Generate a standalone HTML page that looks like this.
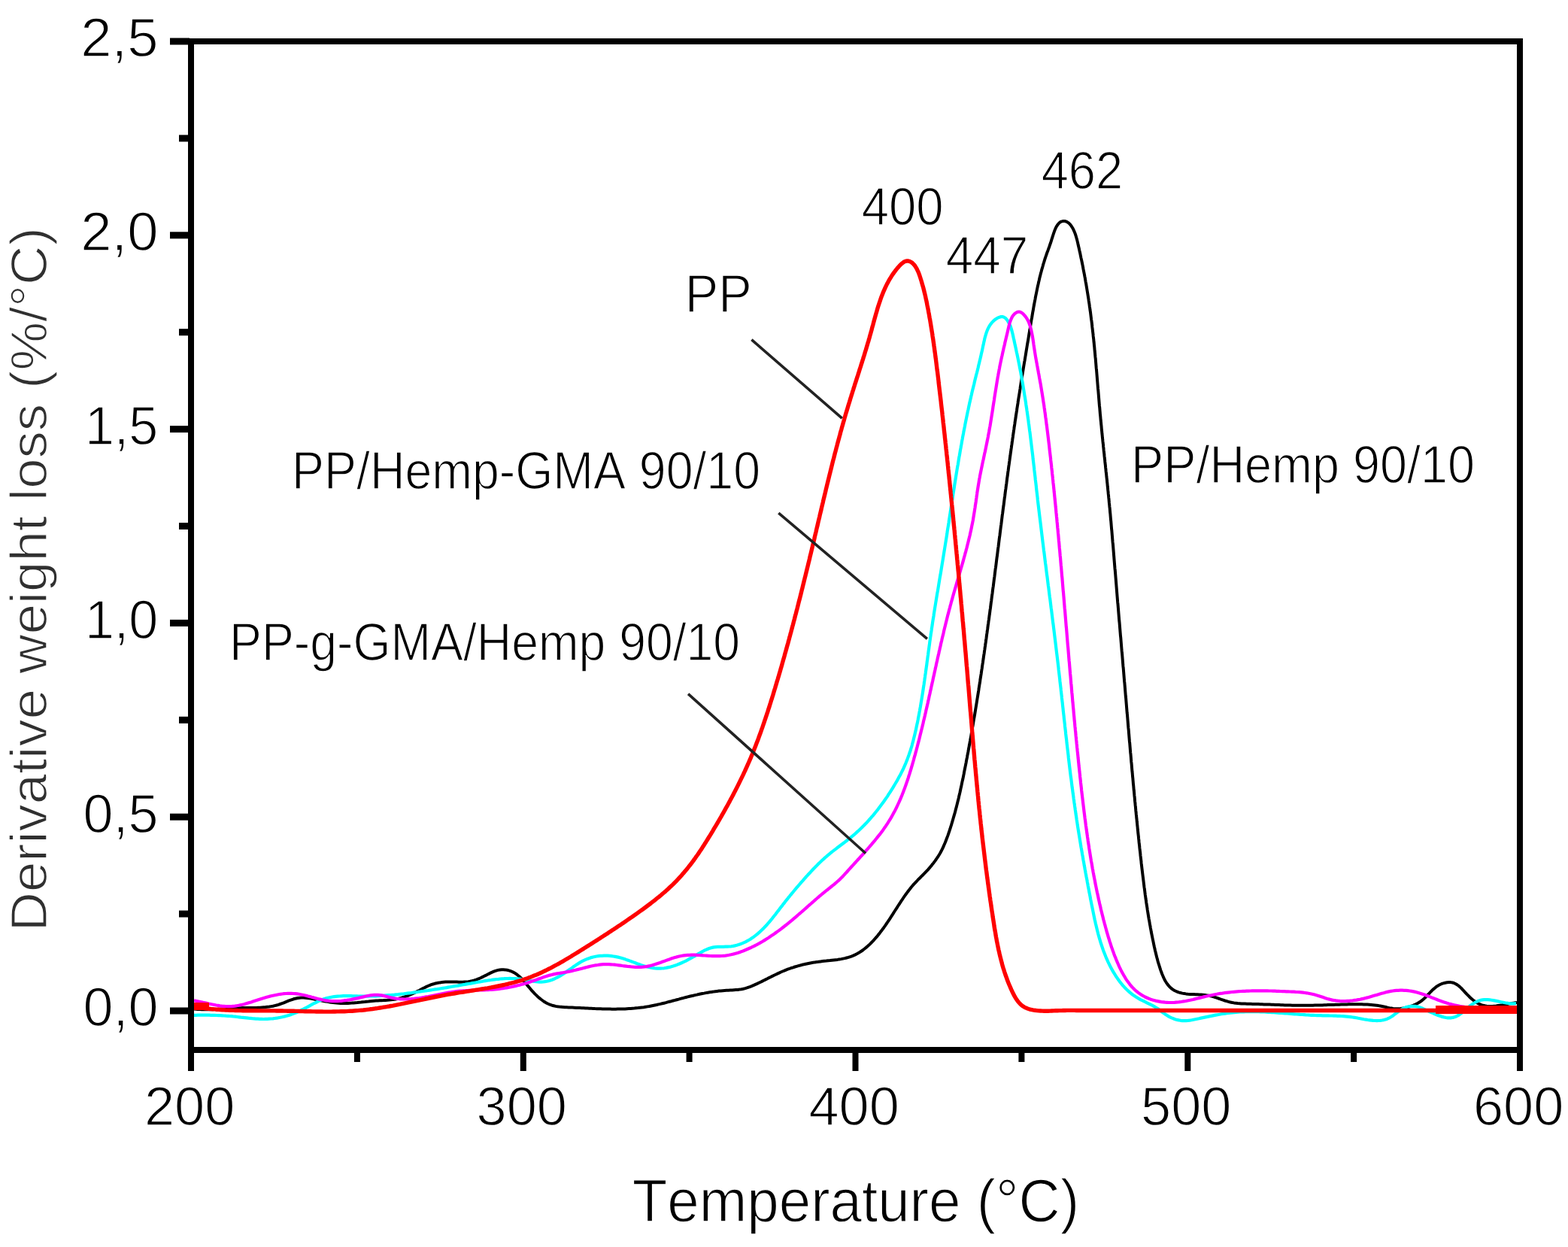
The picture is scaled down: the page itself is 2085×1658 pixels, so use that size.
<!DOCTYPE html>
<html><head><meta charset="utf-8"><title>Derivative weight loss</title>
<style>html,body{margin:0;padding:0;background:#fff;}svg{display:block;}</style></head>
<body><svg width="2085" height="1658" viewBox="0 0 2085 1658">
<rect width="2085" height="1658" fill="#fff"/>
<path d="M258.0 1341.5 L260.5 1341.7 L263.0 1342.0 L265.6 1342.1 L268.1 1342.2 L270.6 1342.3 L273.1 1342.3 L275.6 1342.3 L278.1 1342.3 L280.6 1342.3 L283.1 1342.2 L285.6 1342.1 L288.1 1342.0 L290.5 1341.8 L293.0 1341.7 L295.5 1341.5 L298.0 1341.4 L300.5 1341.2 L303.0 1341.0 L305.5 1340.9 L308.0 1340.7 L310.5 1340.6 L313.0 1340.5 L315.5 1340.3 L318.0 1340.2 L320.5 1340.2 L323.0 1340.1 L325.5 1340.1 L328.0 1340.0 L330.5 1340.0 L333.1 1340.0 L335.6 1340.0 L338.1 1339.9 L340.6 1339.9 L343.1 1339.8 L345.6 1339.7 L348.1 1339.5 L350.6 1339.3 L353.1 1339.1 L355.6 1338.8 L358.0 1338.5 L360.5 1338.1 L362.9 1337.7 L365.4 1337.1 L367.8 1336.5 L370.2 1335.8 L372.5 1335.0 L374.9 1334.2 L377.3 1333.3 L379.6 1332.3 L381.9 1331.4 L384.3 1330.4 L386.6 1329.6 L389.0 1328.8 L391.3 1328.0 L393.7 1327.5 L396.0 1327.0 L398.4 1326.7 L400.8 1326.6 L403.3 1326.6 L405.7 1326.7 L408.1 1326.9 L410.6 1327.2 L413.0 1327.6 L415.5 1328.0 L418.0 1328.5 L420.5 1329.0 L422.9 1329.5 L425.4 1330.0 L427.9 1330.5 L430.3 1331.0 L432.8 1331.5 L435.3 1331.9 L437.7 1332.3 L440.2 1332.7 L442.7 1333.0 L445.2 1333.3 L447.7 1333.6 L450.1 1333.8 L452.6 1333.9 L455.1 1333.9 L457.6 1334.0 L460.2 1333.9 L462.7 1333.9 L465.2 1333.7 L467.7 1333.6 L470.2 1333.4 L472.6 1333.2 L475.1 1333.0 L477.6 1332.7 L480.1 1332.5 L482.6 1332.2 L485.1 1332.0 L487.5 1331.7 L490.0 1331.5 L492.5 1331.2 L495.0 1331.0 L497.5 1330.8 L500.0 1330.6 L502.5 1330.5 L505.0 1330.3 L507.5 1330.2 L510.0 1330.1 L512.5 1329.9 L515.0 1329.8 L517.5 1329.6 L520.0 1329.3 L522.5 1329.0 L524.9 1328.7 L527.4 1328.2 L529.8 1327.7 L532.2 1327.1 L534.6 1326.5 L537.0 1325.7 L539.3 1324.9 L541.7 1324.1 L544.0 1323.1 L546.3 1322.2 L548.6 1321.2 L550.9 1320.1 L553.2 1319.0 L555.4 1317.8 L557.7 1316.7 L559.9 1315.5 L562.2 1314.3 L564.4 1313.2 L566.6 1312.1 L568.9 1311.0 L571.2 1310.1 L573.4 1309.2 L575.7 1308.5 L578.0 1307.8 L580.4 1307.2 L582.7 1306.8 L585.1 1306.4 L587.5 1306.1 L589.9 1305.8 L592.4 1305.6 L594.9 1305.5 L597.3 1305.5 L599.9 1305.5 L602.4 1305.5 L605.0 1305.6 L607.5 1305.6 L610.1 1305.7 L612.7 1305.7 L615.2 1305.7 L617.7 1305.6 L620.2 1305.5 L622.7 1305.2 L625.2 1304.8 L627.5 1304.3 L629.9 1303.7 L632.2 1303.0 L634.5 1302.1 L636.8 1301.2 L639.0 1300.2 L641.3 1299.1 L643.5 1298.0 L645.8 1296.9 L648.0 1295.7 L650.3 1294.6 L652.7 1293.4 L655.0 1292.4 L657.3 1291.4 L659.7 1290.6 L662.1 1289.9 L664.6 1289.5 L667.0 1289.3 L669.5 1289.3 L671.9 1289.4 L674.3 1289.8 L676.7 1290.4 L679.0 1291.1 L681.2 1292.0 L683.4 1293.1 L685.4 1294.3 L687.4 1295.7 L689.2 1297.2 L691.1 1298.8 L692.8 1300.4 L694.5 1302.2 L696.2 1304.1 L697.8 1306.0 L699.5 1307.9 L701.1 1309.9 L702.8 1311.9 L704.4 1313.8 L706.1 1315.8 L707.9 1317.8 L709.6 1319.7 L711.4 1321.6 L713.3 1323.4 L715.2 1325.2 L717.1 1326.9 L719.1 1328.5 L721.1 1330.0 L723.1 1331.5 L725.2 1332.8 L727.4 1334.0 L729.6 1335.0 L731.8 1335.9 L734.1 1336.7 L736.4 1337.3 L738.8 1337.9 L741.2 1338.3 L743.6 1338.6 L746.0 1338.8 L748.5 1339.0 L751.0 1339.2 L753.5 1339.3 L756.0 1339.4 L758.5 1339.5 L761.0 1339.6 L763.5 1339.7 L766.0 1339.9 L768.5 1340.0 L771.0 1340.1 L773.5 1340.2 L776.0 1340.3 L778.5 1340.5 L781.1 1340.6 L783.6 1340.7 L786.1 1340.8 L788.6 1340.9 L791.1 1341.1 L793.6 1341.2 L796.1 1341.3 L798.6 1341.3 L801.1 1341.4 L803.7 1341.5 L806.2 1341.5 L808.7 1341.6 L811.2 1341.6 L813.7 1341.7 L816.2 1341.7 L818.7 1341.7 L821.2 1341.6 L823.7 1341.6 L826.2 1341.5 L828.7 1341.5 L831.2 1341.4 L833.7 1341.2 L836.2 1341.1 L838.6 1341.0 L841.1 1340.8 L843.6 1340.6 L846.1 1340.3 L848.6 1340.1 L851.1 1339.8 L853.5 1339.5 L856.0 1339.2 L858.5 1338.8 L860.9 1338.4 L863.4 1338.0 L865.8 1337.5 L868.3 1337.0 L870.7 1336.5 L873.2 1336.0 L875.6 1335.4 L878.1 1334.9 L880.5 1334.3 L883.0 1333.7 L885.4 1333.1 L887.8 1332.4 L890.3 1331.8 L892.7 1331.2 L895.1 1330.5 L897.5 1329.9 L900.0 1329.2 L902.4 1328.6 L904.8 1327.9 L907.2 1327.3 L909.6 1326.6 L912.1 1326.0 L914.5 1325.4 L916.9 1324.8 L919.3 1324.2 L921.7 1323.7 L924.1 1323.1 L926.6 1322.6 L929.0 1322.0 L931.4 1321.5 L933.8 1321.0 L936.3 1320.6 L938.7 1320.1 L941.2 1319.7 L943.6 1319.3 L946.1 1318.9 L948.5 1318.6 L951.0 1318.2 L953.5 1317.9 L956.0 1317.6 L958.4 1317.4 L961.0 1317.2 L963.5 1317.0 L966.0 1316.8 L968.5 1316.7 L971.1 1316.6 L973.6 1316.5 L976.1 1316.3 L978.6 1316.1 L981.1 1315.9 L983.6 1315.6 L986.1 1315.2 L988.5 1314.7 L990.9 1314.1 L993.2 1313.4 L995.5 1312.6 L997.8 1311.8 L1000.1 1310.9 L1002.4 1309.9 L1004.6 1308.9 L1006.9 1307.9 L1009.1 1306.8 L1011.4 1305.7 L1013.6 1304.6 L1015.8 1303.5 L1018.1 1302.4 L1020.3 1301.3 L1022.5 1300.1 L1024.8 1299.0 L1027.0 1297.9 L1029.3 1296.8 L1031.5 1295.7 L1033.8 1294.6 L1036.0 1293.6 L1038.3 1292.5 L1040.6 1291.5 L1042.9 1290.6 L1045.2 1289.6 L1047.5 1288.7 L1049.9 1287.9 L1052.2 1287.0 L1054.6 1286.3 L1056.9 1285.5 L1059.3 1284.8 L1061.7 1284.1 L1064.1 1283.5 L1066.5 1282.8 L1068.9 1282.3 L1071.3 1281.7 L1073.8 1281.2 L1076.2 1280.7 L1078.7 1280.2 L1081.2 1279.8 L1083.6 1279.4 L1086.1 1279.1 L1088.6 1278.7 L1091.1 1278.4 L1093.6 1278.1 L1096.1 1277.8 L1098.7 1277.6 L1101.2 1277.3 L1103.7 1277.1 L1106.2 1276.8 L1108.7 1276.5 L1111.2 1276.2 L1113.7 1275.9 L1116.1 1275.5 L1118.6 1275.1 L1121.0 1274.6 L1123.4 1274.1 L1125.8 1273.5 L1128.1 1272.9 L1130.5 1272.1 L1132.7 1271.3 L1135.0 1270.4 L1137.2 1269.4 L1139.4 1268.3 L1141.5 1267.1 L1143.6 1265.8 L1145.6 1264.5 L1147.7 1263.0 L1149.6 1261.5 L1151.6 1259.9 L1153.5 1258.3 L1155.4 1256.6 L1157.2 1254.8 L1159.0 1253.0 L1160.8 1251.2 L1162.5 1249.3 L1164.2 1247.3 L1165.9 1245.4 L1167.5 1243.4 L1169.2 1241.4 L1170.7 1239.3 L1172.3 1237.3 L1173.8 1235.2 L1175.3 1233.2 L1176.8 1231.1 L1178.2 1229.0 L1179.6 1227.0 L1181.0 1224.9 L1182.4 1222.8 L1183.7 1220.8 L1185.1 1218.7 L1186.4 1216.7 L1187.7 1214.6 L1189.0 1212.5 L1190.3 1210.5 L1191.7 1208.4 L1193.0 1206.4 L1194.3 1204.3 L1195.6 1202.3 L1197.0 1200.2 L1198.3 1198.1 L1199.7 1196.1 L1201.1 1194.0 L1202.5 1191.9 L1204.0 1189.8 L1205.5 1187.8 L1207.0 1185.7 L1208.5 1183.7 L1210.1 1181.7 L1211.6 1179.8 L1213.3 1177.8 L1214.9 1175.9 L1216.6 1174.1 L1218.3 1172.3 L1220.0 1170.5 L1221.7 1168.7 L1223.5 1167.0 L1225.3 1165.2 L1227.0 1163.5 L1228.8 1161.7 L1230.5 1159.9 L1232.2 1158.1 L1233.9 1156.3 L1235.6 1154.4 L1237.2 1152.5 L1238.8 1150.6 L1240.4 1148.6 L1241.9 1146.6 L1243.4 1144.6 L1244.9 1142.5 L1246.3 1140.4 L1247.7 1138.3 L1249.0 1136.2 L1250.3 1134.0 L1251.5 1131.8 L1252.6 1129.6 L1253.7 1127.3 L1254.7 1125.1 L1255.7 1122.8 L1256.7 1120.5 L1257.6 1118.2 L1258.5 1115.8 L1259.4 1113.5 L1260.3 1111.1 L1261.1 1108.8 L1261.9 1106.4 L1262.7 1104.1 L1263.5 1101.7 L1264.2 1099.3 L1265.0 1096.9 L1265.7 1094.5 L1266.4 1092.1 L1267.1 1089.7 L1267.8 1087.3 L1268.5 1084.9 L1269.2 1082.5 L1269.9 1080.1 L1270.5 1077.7 L1271.1 1075.3 L1271.8 1072.9 L1272.4 1070.4 L1273.0 1068.0 L1273.6 1065.6 L1274.2 1063.2 L1274.8 1060.7 L1275.3 1058.3 L1275.9 1055.9 L1276.5 1053.4 L1277.0 1051.0 L1277.5 1048.5 L1278.1 1046.1 L1278.6 1043.6 L1279.1 1041.2 L1279.6 1038.7 L1280.2 1036.3 L1280.7 1033.8 L1281.2 1031.4 L1281.7 1028.9 L1282.1 1026.4 L1282.6 1024.0 L1283.1 1021.5 L1283.6 1019.1 L1284.1 1016.6 L1284.6 1014.1 L1285.0 1011.7 L1285.5 1009.2 L1286.0 1006.8 L1286.4 1004.3 L1286.9 1001.8 L1287.4 999.4 L1287.8 996.9 L1288.3 994.5 L1288.7 992.0 L1289.2 989.5 L1289.6 987.1 L1290.1 984.6 L1290.5 982.1 L1291.0 979.7 L1291.4 977.2 L1291.8 974.7 L1292.3 972.3 L1292.7 969.8 L1293.1 967.3 L1293.6 964.9 L1294.0 962.4 L1294.4 959.9 L1294.8 957.5 L1295.2 955.0 L1295.7 952.5 L1296.1 950.1 L1296.5 947.6 L1296.9 945.1 L1297.3 942.7 L1297.7 940.2 L1298.1 937.7 L1298.5 935.3 L1298.9 932.8 L1299.3 930.3 L1299.7 927.8 L1300.1 925.4 L1300.5 922.9 L1300.9 920.4 L1301.3 918.0 L1301.6 915.5 L1302.0 913.0 L1302.4 910.5 L1302.8 908.1 L1303.2 905.6 L1303.5 903.1 L1303.9 900.6 L1304.3 898.2 L1304.7 895.7 L1305.0 893.2 L1305.4 890.7 L1305.8 888.3 L1306.1 885.8 L1306.5 883.3 L1306.9 880.8 L1307.2 878.4 L1307.6 875.9 L1307.9 873.4 L1308.3 870.9 L1308.7 868.5 L1309.0 866.0 L1309.4 863.5 L1309.7 861.0 L1310.1 858.6 L1310.4 856.1 L1310.8 853.6 L1311.1 851.1 L1311.5 848.6 L1311.8 846.2 L1312.1 843.7 L1312.5 841.2 L1312.8 838.7 L1313.2 836.2 L1313.5 833.8 L1313.8 831.3 L1314.2 828.8 L1314.5 826.3 L1314.9 823.8 L1315.2 821.4 L1315.5 818.9 L1315.9 816.4 L1316.2 813.9 L1316.5 811.4 L1316.9 809.0 L1317.2 806.5 L1317.5 804.0 L1317.8 801.5 L1318.2 799.0 L1318.5 796.6 L1318.8 794.1 L1319.1 791.6 L1319.5 789.1 L1319.8 786.6 L1320.1 784.1 L1320.4 781.7 L1320.8 779.2 L1321.1 776.7 L1321.4 774.2 L1321.7 771.7 L1322.0 769.2 L1322.4 766.8 L1322.7 764.3 L1323.0 761.8 L1323.3 759.3 L1323.6 756.8 L1324.0 754.3 L1324.3 751.9 L1324.6 749.4 L1324.9 746.9 L1325.2 744.4 L1325.5 741.9 L1325.9 739.4 L1326.2 737.0 L1326.5 734.5 L1326.8 732.0 L1327.1 729.5 L1327.5 727.0 L1327.8 724.5 L1328.1 722.1 L1328.4 719.6 L1328.7 717.1 L1329.0 714.6 L1329.4 712.1 L1329.7 709.6 L1330.0 707.1 L1330.3 704.7 L1330.6 702.2 L1330.9 699.7 L1331.3 697.2 L1331.6 694.7 L1331.9 692.2 L1332.2 689.8 L1332.5 687.3 L1332.8 684.8 L1333.2 682.3 L1333.5 679.8 L1333.8 677.3 L1334.1 674.9 L1334.5 672.4 L1334.8 669.9 L1335.1 667.4 L1335.4 664.9 L1335.7 662.4 L1336.1 660.0 L1336.4 657.5 L1336.7 655.0 L1337.0 652.5 L1337.4 650.0 L1337.7 647.6 L1338.0 645.1 L1338.4 642.6 L1338.7 640.1 L1339.0 637.6 L1339.3 635.1 L1339.7 632.7 L1340.0 630.2 L1340.3 627.7 L1340.7 625.2 L1341.0 622.7 L1341.3 620.3 L1341.7 617.8 L1342.0 615.3 L1342.4 612.8 L1342.7 610.3 L1343.0 607.9 L1343.4 605.4 L1343.7 602.9 L1344.1 600.4 L1344.4 597.9 L1344.8 595.5 L1345.1 593.0 L1345.5 590.5 L1345.8 588.0 L1346.2 585.6 L1346.5 583.1 L1346.9 580.6 L1347.2 578.1 L1347.6 575.7 L1347.9 573.2 L1348.3 570.7 L1348.6 568.2 L1349.0 565.8 L1349.4 563.3 L1349.7 560.8 L1350.1 558.3 L1350.5 555.9 L1350.8 553.4 L1351.2 550.9 L1351.6 548.4 L1352.0 546.0 L1352.3 543.5 L1352.7 541.0 L1353.1 538.5 L1353.5 536.1 L1353.8 533.6 L1354.2 531.1 L1354.6 528.7 L1355.0 526.2 L1355.4 523.7 L1355.8 521.3 L1356.2 518.8 L1356.6 516.3 L1356.9 513.8 L1357.3 511.4 L1357.7 508.9 L1358.1 506.4 L1358.5 504.0 L1358.9 501.5 L1359.3 499.0 L1359.7 496.6 L1360.1 494.1 L1360.5 491.6 L1360.9 489.1 L1361.3 486.7 L1361.7 484.2 L1362.1 481.7 L1362.6 479.3 L1363.0 476.8 L1363.4 474.3 L1363.8 471.9 L1364.2 469.4 L1364.6 466.9 L1365.0 464.4 L1365.4 462.0 L1365.8 459.5 L1366.2 457.0 L1366.7 454.5 L1367.1 452.1 L1367.5 449.6 L1367.9 447.1 L1368.3 444.7 L1368.7 442.2 L1369.1 439.7 L1369.6 437.2 L1370.0 434.8 L1370.4 432.3 L1370.8 429.8 L1371.2 427.3 L1371.6 424.8 L1372.1 422.4 L1372.5 419.9 L1372.9 417.4 L1373.3 414.9 L1373.8 412.5 L1374.2 410.0 L1374.6 407.5 L1375.1 405.0 L1375.5 402.6 L1376.0 400.1 L1376.5 397.6 L1376.9 395.2 L1377.4 392.7 L1377.9 390.3 L1378.4 387.8 L1378.9 385.4 L1379.4 382.9 L1379.9 380.5 L1380.5 378.0 L1381.0 375.6 L1381.6 373.2 L1382.1 370.8 L1382.7 368.3 L1383.3 365.9 L1383.9 363.5 L1384.6 361.1 L1385.2 358.7 L1385.9 356.4 L1386.6 354.0 L1387.2 351.6 L1388.0 349.2 L1388.7 346.9 L1389.4 344.5 L1390.2 342.2 L1391.0 339.9 L1391.8 337.5 L1392.6 335.2 L1393.5 332.9 L1394.3 330.6 L1395.2 328.2 L1396.0 325.8 L1396.9 323.3 L1397.7 320.8 L1398.5 318.2 L1399.4 315.5 L1400.2 312.9 L1401.1 310.2 L1402.0 307.6 L1403.0 305.1 L1404.0 302.7 L1405.2 300.6 L1406.5 298.6 L1407.9 297.0 L1409.5 295.6 L1411.3 294.6 L1413.2 294.1 L1415.1 293.9 L1417.1 294.3 L1419.0 295.1 L1420.8 296.3 L1422.5 297.9 L1424.1 299.8 L1425.5 301.9 L1426.8 304.1 L1427.9 306.4 L1428.9 308.8 L1429.8 311.1 L1430.6 313.5 L1431.3 316.0 L1432.0 318.4 L1432.6 320.9 L1433.2 323.3 L1433.7 325.8 L1434.3 328.3 L1434.9 330.8 L1435.4 333.2 L1436.0 335.7 L1436.5 338.2 L1437.0 340.6 L1437.5 343.1 L1438.1 345.6 L1438.6 348.0 L1439.1 350.5 L1439.6 352.9 L1440.1 355.4 L1440.5 357.9 L1441.0 360.3 L1441.5 362.8 L1442.0 365.3 L1442.4 367.7 L1442.9 370.2 L1443.3 372.7 L1443.7 375.1 L1444.2 377.6 L1444.6 380.1 L1445.0 382.5 L1445.4 385.0 L1445.8 387.5 L1446.2 389.9 L1446.6 392.4 L1447.0 394.9 L1447.4 397.3 L1447.7 399.8 L1448.1 402.3 L1448.5 404.7 L1448.8 407.2 L1449.2 409.7 L1449.5 412.2 L1449.9 414.6 L1450.2 417.1 L1450.5 419.6 L1450.8 422.0 L1451.1 424.5 L1451.5 427.0 L1451.8 429.5 L1452.1 432.0 L1452.3 434.4 L1452.6 436.9 L1452.9 439.4 L1453.2 441.9 L1453.5 444.4 L1453.7 446.9 L1454.0 449.3 L1454.3 451.8 L1454.5 454.3 L1454.8 456.8 L1455.0 459.3 L1455.3 461.8 L1455.5 464.3 L1455.7 466.8 L1456.0 469.3 L1456.2 471.8 L1456.4 474.2 L1456.7 476.7 L1456.9 479.2 L1457.1 481.7 L1457.3 484.2 L1457.5 486.7 L1457.7 489.2 L1458.0 491.7 L1458.2 494.2 L1458.4 496.7 L1458.6 499.2 L1458.8 501.7 L1459.0 504.2 L1459.2 506.7 L1459.4 509.2 L1459.6 511.7 L1459.8 514.2 L1460.0 516.7 L1460.3 519.2 L1460.5 521.7 L1460.7 524.2 L1460.9 526.7 L1461.1 529.2 L1461.3 531.7 L1461.5 534.2 L1461.7 536.7 L1461.9 539.2 L1462.2 541.7 L1462.4 544.2 L1462.6 546.7 L1462.8 549.2 L1463.0 551.6 L1463.3 554.1 L1463.5 556.6 L1463.7 559.1 L1464.0 561.6 L1464.2 564.1 L1464.5 566.6 L1464.7 569.1 L1464.9 571.6 L1465.2 574.1 L1465.4 576.6 L1465.7 579.1 L1465.9 581.6 L1466.2 584.0 L1466.4 586.5 L1466.7 589.0 L1467.0 591.5 L1467.2 594.0 L1467.5 596.5 L1467.7 599.0 L1468.0 601.5 L1468.3 604.0 L1468.5 606.5 L1468.8 608.9 L1469.1 611.4 L1469.3 613.9 L1469.6 616.4 L1469.9 618.9 L1470.1 621.4 L1470.4 623.9 L1470.6 626.4 L1470.9 628.8 L1471.2 631.3 L1471.4 633.8 L1471.7 636.3 L1472.0 638.8 L1472.2 641.3 L1472.5 643.8 L1472.7 646.3 L1473.0 648.8 L1473.2 651.2 L1473.5 653.7 L1473.7 656.2 L1474.0 658.7 L1474.2 661.2 L1474.5 663.7 L1474.7 666.2 L1474.9 668.7 L1475.2 671.2 L1475.4 673.7 L1475.7 676.1 L1475.9 678.6 L1476.1 681.1 L1476.4 683.6 L1476.6 686.1 L1476.8 688.6 L1477.0 691.1 L1477.3 693.6 L1477.5 696.1 L1477.7 698.6 L1477.9 701.1 L1478.1 703.6 L1478.4 706.1 L1478.6 708.6 L1478.8 711.1 L1479.0 713.5 L1479.2 716.0 L1479.4 718.5 L1479.6 721.0 L1479.9 723.5 L1480.1 726.0 L1480.3 728.5 L1480.5 731.0 L1480.7 733.5 L1480.9 736.0 L1481.1 738.5 L1481.3 741.0 L1481.5 743.5 L1481.7 746.0 L1481.9 748.5 L1482.1 751.0 L1482.3 753.5 L1482.5 756.0 L1482.8 758.5 L1483.0 761.0 L1483.2 763.4 L1483.4 765.9 L1483.6 768.4 L1483.8 770.9 L1484.0 773.4 L1484.2 775.9 L1484.4 778.4 L1484.6 780.9 L1484.8 783.4 L1485.0 785.9 L1485.2 788.4 L1485.4 790.9 L1485.6 793.4 L1485.8 795.9 L1486.0 798.4 L1486.2 800.9 L1486.5 803.4 L1486.7 805.9 L1486.9 808.4 L1487.1 810.9 L1487.3 813.4 L1487.5 815.9 L1487.7 818.3 L1487.9 820.8 L1488.1 823.3 L1488.3 825.8 L1488.6 828.3 L1488.8 830.8 L1489.0 833.3 L1489.2 835.8 L1489.4 838.3 L1489.6 840.8 L1489.8 843.3 L1490.0 845.8 L1490.3 848.3 L1490.5 850.8 L1490.7 853.3 L1490.9 855.8 L1491.1 858.3 L1491.3 860.8 L1491.5 863.3 L1491.7 865.7 L1492.0 868.2 L1492.2 870.7 L1492.4 873.2 L1492.6 875.7 L1492.8 878.2 L1493.0 880.7 L1493.2 883.2 L1493.4 885.7 L1493.7 888.2 L1493.9 890.7 L1494.1 893.2 L1494.3 895.7 L1494.5 898.2 L1494.7 900.7 L1494.9 903.2 L1495.1 905.7 L1495.4 908.2 L1495.6 910.6 L1495.8 913.1 L1496.0 915.6 L1496.2 918.1 L1496.4 920.6 L1496.6 923.1 L1496.8 925.6 L1497.1 928.1 L1497.3 930.6 L1497.5 933.1 L1497.7 935.6 L1497.9 938.1 L1498.1 940.6 L1498.3 943.1 L1498.5 945.6 L1498.7 948.1 L1499.0 950.5 L1499.2 953.0 L1499.4 955.5 L1499.6 958.0 L1499.8 960.5 L1500.0 963.0 L1500.2 965.5 L1500.4 968.0 L1500.7 970.5 L1500.9 973.0 L1501.1 975.5 L1501.3 978.0 L1501.5 980.5 L1501.7 983.0 L1501.9 985.5 L1502.2 987.9 L1502.4 990.4 L1502.6 992.9 L1502.8 995.4 L1503.0 997.9 L1503.2 1000.4 L1503.5 1002.9 L1503.7 1005.4 L1503.9 1007.9 L1504.1 1010.4 L1504.3 1012.9 L1504.6 1015.4 L1504.8 1017.9 L1505.0 1020.4 L1505.2 1022.8 L1505.4 1025.3 L1505.7 1027.8 L1505.9 1030.3 L1506.1 1032.8 L1506.4 1035.3 L1506.6 1037.8 L1506.8 1040.3 L1507.0 1042.8 L1507.3 1045.3 L1507.5 1047.8 L1507.7 1050.3 L1508.0 1052.8 L1508.2 1055.2 L1508.4 1057.7 L1508.7 1060.2 L1508.9 1062.7 L1509.1 1065.2 L1509.4 1067.7 L1509.6 1070.2 L1509.9 1072.7 L1510.1 1075.2 L1510.3 1077.7 L1510.6 1080.2 L1510.8 1082.7 L1511.1 1085.1 L1511.3 1087.6 L1511.6 1090.1 L1511.8 1092.6 L1512.1 1095.1 L1512.3 1097.6 L1512.6 1100.1 L1512.8 1102.6 L1513.1 1105.1 L1513.3 1107.6 L1513.6 1110.1 L1513.9 1112.6 L1514.1 1115.0 L1514.4 1117.5 L1514.6 1120.0 L1514.9 1122.5 L1515.2 1125.0 L1515.4 1127.5 L1515.7 1130.0 L1516.0 1132.5 L1516.3 1135.0 L1516.5 1137.5 L1516.8 1140.0 L1517.1 1142.4 L1517.4 1144.9 L1517.6 1147.4 L1517.9 1149.9 L1518.2 1152.4 L1518.5 1154.9 L1518.8 1157.4 L1519.1 1159.9 L1519.4 1162.4 L1519.7 1164.9 L1520.0 1167.3 L1520.3 1169.8 L1520.6 1172.3 L1520.9 1174.8 L1521.2 1177.3 L1521.5 1179.8 L1521.9 1182.3 L1522.2 1184.7 L1522.5 1187.2 L1522.8 1189.7 L1523.2 1192.2 L1523.5 1194.7 L1523.9 1197.1 L1524.2 1199.6 L1524.6 1202.1 L1525.0 1204.6 L1525.4 1207.0 L1525.7 1209.5 L1526.1 1212.0 L1526.5 1214.4 L1526.9 1216.9 L1527.3 1219.4 L1527.7 1221.8 L1528.2 1224.3 L1528.6 1226.8 L1529.0 1229.2 L1529.5 1231.7 L1529.9 1234.1 L1530.4 1236.6 L1530.8 1239.0 L1531.3 1241.5 L1531.8 1243.9 L1532.3 1246.4 L1532.8 1248.8 L1533.3 1251.2 L1533.8 1253.7 L1534.3 1256.1 L1534.8 1258.5 L1535.4 1261.0 L1535.9 1263.4 L1536.5 1265.8 L1537.1 1268.3 L1537.7 1270.7 L1538.3 1273.1 L1539.0 1275.5 L1539.6 1278.0 L1540.3 1280.4 L1541.1 1282.8 L1541.8 1285.2 L1542.6 1287.7 L1543.4 1290.1 L1544.3 1292.5 L1545.2 1295.0 L1546.2 1297.3 L1547.2 1299.7 L1548.3 1302.0 L1549.5 1304.2 L1550.8 1306.3 L1552.2 1308.3 L1553.6 1310.2 L1555.2 1312.0 L1556.9 1313.6 L1558.8 1315.1 L1560.7 1316.4 L1562.8 1317.5 L1565.0 1318.5 L1567.3 1319.3 L1569.7 1320.0 L1572.1 1320.6 L1574.6 1321.0 L1577.1 1321.4 L1579.7 1321.7 L1582.2 1321.9 L1584.7 1322.0 L1587.3 1322.1 L1589.8 1322.2 L1592.4 1322.3 L1594.9 1322.4 L1597.4 1322.6 L1599.8 1322.8 L1602.3 1323.0 L1604.8 1323.4 L1607.2 1323.8 L1609.6 1324.3 L1612.1 1324.9 L1614.5 1325.6 L1616.9 1326.4 L1619.2 1327.2 L1621.6 1328.0 L1624.0 1328.9 L1626.4 1329.7 L1628.8 1330.5 L1631.2 1331.2 L1633.6 1331.9 L1636.0 1332.5 L1638.5 1333.0 L1640.9 1333.4 L1643.4 1333.7 L1645.8 1334.0 L1648.3 1334.2 L1650.8 1334.4 L1653.3 1334.5 L1655.7 1334.6 L1658.2 1334.7 L1660.7 1334.8 L1663.2 1334.8 L1665.7 1334.9 L1668.2 1335.0 L1670.7 1335.0 L1673.2 1335.1 L1675.7 1335.2 L1678.2 1335.3 L1680.7 1335.4 L1683.2 1335.4 L1685.7 1335.5 L1688.3 1335.6 L1690.8 1335.7 L1693.3 1335.8 L1695.8 1335.9 L1698.3 1336.0 L1700.8 1336.1 L1703.3 1336.2 L1705.8 1336.3 L1708.3 1336.4 L1710.8 1336.5 L1713.3 1336.5 L1715.8 1336.6 L1718.3 1336.7 L1720.8 1336.7 L1723.3 1336.7 L1725.8 1336.8 L1728.3 1336.8 L1730.8 1336.8 L1733.3 1336.8 L1735.8 1336.8 L1738.3 1336.8 L1740.8 1336.8 L1743.3 1336.7 L1745.8 1336.7 L1748.3 1336.6 L1750.8 1336.6 L1753.4 1336.5 L1755.9 1336.4 L1758.4 1336.4 L1760.9 1336.3 L1763.4 1336.2 L1765.9 1336.1 L1768.4 1336.1 L1770.9 1336.0 L1773.4 1335.9 L1775.9 1335.8 L1778.4 1335.7 L1780.9 1335.7 L1783.4 1335.6 L1785.9 1335.5 L1788.4 1335.4 L1790.9 1335.4 L1793.4 1335.3 L1795.9 1335.3 L1798.4 1335.2 L1800.8 1335.2 L1803.3 1335.2 L1805.8 1335.2 L1808.3 1335.2 L1810.8 1335.3 L1813.3 1335.4 L1815.7 1335.5 L1818.2 1335.6 L1820.7 1335.8 L1823.2 1336.0 L1825.6 1336.2 L1828.1 1336.5 L1830.5 1336.8 L1833.0 1337.1 L1835.4 1337.5 L1837.8 1338.0 L1840.3 1338.5 L1842.7 1339.0 L1845.1 1339.6 L1847.5 1340.1 L1850.0 1340.5 L1852.4 1340.9 L1854.9 1341.2 L1857.3 1341.3 L1859.8 1341.2 L1862.3 1341.0 L1864.8 1340.6 L1867.3 1340.2 L1869.8 1339.6 L1872.3 1339.0 L1874.7 1338.3 L1877.2 1337.5 L1879.5 1336.6 L1881.8 1335.6 L1884.1 1334.5 L1886.2 1333.3 L1888.3 1332.0 L1890.3 1330.6 L1892.2 1329.0 L1894.0 1327.4 L1895.8 1325.7 L1897.5 1323.9 L1899.2 1322.1 L1900.9 1320.3 L1902.6 1318.5 L1904.3 1316.8 L1906.2 1315.1 L1908.1 1313.5 L1910.0 1311.9 L1912.2 1310.5 L1914.4 1309.3 L1916.7 1308.2 L1919.2 1307.4 L1921.7 1306.7 L1924.2 1306.2 L1926.7 1306.0 L1929.1 1306.1 L1931.5 1306.5 L1933.7 1307.2 L1935.8 1308.2 L1937.9 1309.5 L1939.8 1310.9 L1941.7 1312.6 L1943.5 1314.3 L1945.2 1316.2 L1947.0 1318.1 L1948.7 1320.0 L1950.5 1321.9 L1952.3 1323.7 L1954.1 1325.5 L1955.9 1327.2 L1957.7 1328.8 L1959.6 1330.3 L1961.6 1331.7 L1963.5 1333.0 L1965.6 1334.2 L1967.7 1335.2 L1969.9 1336.1 L1972.1 1336.8 L1974.4 1337.3 L1976.8 1337.7 L1979.2 1337.9 L1981.7 1338.0 L1984.3 1337.9 L1986.9 1337.7 L1989.5 1337.5 L1992.1 1337.1 L1994.7 1336.7 L1997.3 1336.3 L1999.9 1335.8 L2002.5 1335.3 L2005.1 1334.9 L2007.6 1334.4 L2010.0 1334.0 L2012.4 1333.6 L2014.8 1333.2 L2017.0 1333.0" stroke="#000" stroke-width="4" fill="none" stroke-linejoin="round"/>
<path d="M258.0 1349.8 L260.5 1349.8 L263.0 1349.7 L265.5 1349.7 L268.1 1349.7 L270.6 1349.7 L273.1 1349.7 L275.6 1349.7 L278.1 1349.7 L280.6 1349.8 L283.1 1349.8 L285.5 1349.9 L288.0 1350.0 L290.5 1350.1 L293.0 1350.2 L295.5 1350.3 L298.0 1350.5 L300.5 1350.7 L303.0 1350.8 L305.5 1351.0 L308.0 1351.2 L310.4 1351.5 L312.9 1351.7 L315.4 1352.0 L317.9 1352.3 L320.4 1352.6 L322.9 1352.8 L325.4 1353.1 L327.9 1353.4 L330.4 1353.7 L332.9 1353.9 L335.4 1354.2 L337.9 1354.4 L340.4 1354.6 L342.9 1354.7 L345.4 1354.9 L347.9 1354.9 L350.4 1355.0 L352.9 1354.9 L355.4 1354.9 L357.9 1354.7 L360.4 1354.5 L362.8 1354.3 L365.3 1354.0 L367.8 1353.7 L370.2 1353.2 L372.7 1352.8 L375.1 1352.3 L377.5 1351.7 L379.9 1351.1 L382.3 1350.4 L384.7 1349.7 L387.1 1348.9 L389.4 1348.0 L391.8 1347.1 L394.1 1346.2 L396.4 1345.2 L398.7 1344.1 L400.9 1343.0 L403.2 1341.9 L405.4 1340.7 L407.6 1339.5 L409.8 1338.3 L412.0 1337.1 L414.2 1335.9 L416.4 1334.7 L418.7 1333.6 L420.9 1332.5 L423.1 1331.4 L425.4 1330.4 L427.6 1329.4 L429.9 1328.6 L432.3 1327.8 L434.6 1327.1 L437.0 1326.5 L439.4 1326.0 L441.8 1325.5 L444.2 1325.2 L446.7 1324.9 L449.1 1324.6 L451.6 1324.5 L454.1 1324.3 L456.6 1324.2 L459.2 1324.2 L461.7 1324.2 L464.2 1324.2 L466.8 1324.2 L469.3 1324.3 L471.9 1324.3 L474.4 1324.4 L477.0 1324.5 L479.5 1324.5 L482.1 1324.6 L484.6 1324.6 L487.1 1324.6 L489.6 1324.6 L492.1 1324.5 L494.6 1324.5 L497.1 1324.4 L499.6 1324.3 L502.1 1324.2 L504.6 1324.1 L507.1 1323.9 L509.6 1323.8 L512.0 1323.6 L514.5 1323.4 L517.0 1323.2 L519.5 1323.0 L521.9 1322.8 L524.4 1322.6 L526.9 1322.3 L529.3 1322.1 L531.8 1321.8 L534.3 1321.5 L536.8 1321.3 L539.2 1321.0 L541.7 1320.7 L544.2 1320.4 L546.7 1320.1 L549.2 1319.7 L551.6 1319.4 L554.1 1319.1 L556.6 1318.7 L559.1 1318.4 L561.6 1318.0 L564.1 1317.7 L566.5 1317.3 L569.0 1317.0 L571.5 1316.6 L574.0 1316.2 L576.5 1315.8 L578.9 1315.4 L581.4 1315.1 L583.9 1314.7 L586.4 1314.3 L588.8 1313.9 L591.3 1313.5 L593.8 1313.1 L596.2 1312.6 L598.7 1312.2 L601.2 1311.8 L603.6 1311.4 L606.1 1311.0 L608.6 1310.6 L611.0 1310.1 L613.5 1309.7 L615.9 1309.3 L618.4 1308.9 L620.9 1308.4 L623.3 1308.0 L625.8 1307.6 L628.3 1307.1 L630.7 1306.7 L633.2 1306.3 L635.7 1305.8 L638.1 1305.4 L640.6 1305.0 L643.1 1304.5 L645.5 1304.1 L648.0 1303.7 L650.5 1303.3 L653.0 1303.0 L655.4 1302.6 L657.9 1302.3 L660.4 1302.0 L662.8 1301.8 L665.3 1301.5 L667.8 1301.3 L670.3 1301.2 L672.8 1301.0 L675.2 1301.0 L677.7 1300.9 L680.2 1301.0 L682.7 1301.0 L685.2 1301.1 L687.6 1301.3 L690.1 1301.6 L692.6 1301.9 L695.1 1302.2 L697.6 1302.6 L700.0 1303.1 L702.5 1303.6 L705.0 1304.0 L707.5 1304.5 L709.9 1304.8 L712.4 1305.2 L714.9 1305.4 L717.3 1305.6 L719.8 1305.6 L722.2 1305.5 L724.6 1305.2 L727.1 1304.8 L729.5 1304.2 L731.9 1303.5 L734.2 1302.7 L736.5 1301.8 L738.8 1300.7 L741.1 1299.6 L743.3 1298.4 L745.5 1297.1 L747.7 1295.8 L749.8 1294.4 L751.9 1293.0 L754.0 1291.5 L756.0 1290.0 L758.1 1288.6 L760.2 1287.1 L762.2 1285.6 L764.3 1284.2 L766.4 1282.8 L768.5 1281.4 L770.6 1280.1 L772.7 1278.8 L774.9 1277.7 L777.1 1276.6 L779.3 1275.6 L781.6 1274.7 L783.9 1273.9 L786.2 1273.1 L788.6 1272.5 L790.9 1272.0 L793.3 1271.5 L795.8 1271.2 L798.2 1270.9 L800.7 1270.8 L803.1 1270.7 L805.6 1270.7 L808.1 1270.7 L810.6 1270.9 L813.1 1271.2 L815.5 1271.5 L818.0 1271.9 L820.5 1272.4 L823.0 1272.9 L825.4 1273.6 L827.9 1274.3 L830.3 1275.0 L832.7 1275.9 L835.2 1276.7 L837.6 1277.6 L840.0 1278.5 L842.4 1279.4 L844.8 1280.3 L847.2 1281.2 L849.6 1282.0 L852.0 1282.9 L854.3 1283.7 L856.7 1284.4 L859.1 1285.1 L861.5 1285.8 L863.9 1286.3 L866.3 1286.8 L868.7 1287.2 L871.1 1287.5 L873.5 1287.7 L875.9 1287.7 L878.3 1287.7 L880.7 1287.5 L883.1 1287.3 L885.5 1286.9 L887.9 1286.4 L890.3 1285.9 L892.7 1285.2 L895.1 1284.5 L897.5 1283.7 L899.9 1282.9 L902.2 1282.0 L904.6 1281.0 L906.9 1280.0 L909.3 1278.9 L911.6 1277.8 L913.9 1276.6 L916.1 1275.4 L918.4 1274.2 L920.6 1272.9 L922.8 1271.7 L925.0 1270.4 L927.2 1269.1 L929.3 1267.8 L931.5 1266.6 L933.6 1265.4 L935.7 1264.2 L937.9 1263.1 L940.1 1262.2 L942.3 1261.3 L944.6 1260.5 L946.9 1259.9 L949.3 1259.4 L951.8 1259.1 L954.3 1258.9 L956.8 1258.8 L959.4 1258.8 L962.0 1258.8 L964.6 1258.7 L967.2 1258.7 L969.7 1258.5 L972.3 1258.3 L974.8 1257.9 L977.2 1257.4 L979.7 1256.8 L982.1 1256.1 L984.4 1255.3 L986.7 1254.4 L989.0 1253.4 L991.3 1252.4 L993.5 1251.2 L995.6 1250.0 L997.8 1248.7 L999.8 1247.3 L1001.9 1245.9 L1003.9 1244.4 L1005.8 1242.9 L1007.7 1241.3 L1009.6 1239.7 L1011.4 1238.0 L1013.2 1236.3 L1015.0 1234.6 L1016.7 1232.8 L1018.4 1231.0 L1020.1 1229.1 L1021.8 1227.2 L1023.4 1225.3 L1025.0 1223.4 L1026.6 1221.5 L1028.1 1219.5 L1029.7 1217.5 L1031.3 1215.6 L1032.8 1213.6 L1034.3 1211.6 L1035.9 1209.6 L1037.4 1207.6 L1038.9 1205.6 L1040.5 1203.6 L1042.0 1201.6 L1043.6 1199.6 L1045.1 1197.6 L1046.7 1195.7 L1048.2 1193.7 L1049.8 1191.8 L1051.4 1189.8 L1053.0 1187.9 L1054.6 1186.0 L1056.2 1184.0 L1057.8 1182.1 L1059.4 1180.2 L1061.0 1178.3 L1062.7 1176.4 L1064.3 1174.5 L1065.9 1172.7 L1067.6 1170.8 L1069.2 1168.9 L1070.9 1167.0 L1072.5 1165.2 L1074.2 1163.3 L1075.9 1161.5 L1077.6 1159.7 L1079.3 1157.8 L1081.0 1156.0 L1082.7 1154.2 L1084.4 1152.5 L1086.2 1150.7 L1087.9 1148.9 L1089.7 1147.2 L1091.5 1145.5 L1093.3 1143.8 L1095.2 1142.1 L1097.0 1140.4 L1098.9 1138.8 L1100.8 1137.2 L1102.7 1135.6 L1104.6 1134.0 L1106.6 1132.4 L1108.6 1130.9 L1110.6 1129.4 L1112.6 1127.8 L1114.6 1126.3 L1116.6 1124.8 L1118.6 1123.3 L1120.6 1121.8 L1122.6 1120.3 L1124.6 1118.7 L1126.6 1117.2 L1128.6 1115.6 L1130.5 1114.1 L1132.5 1112.5 L1134.4 1110.9 L1136.3 1109.3 L1138.2 1107.6 L1140.0 1105.9 L1141.9 1104.2 L1143.7 1102.5 L1145.5 1100.8 L1147.3 1099.0 L1149.0 1097.3 L1150.7 1095.5 L1152.5 1093.7 L1154.2 1091.8 L1155.8 1090.0 L1157.5 1088.1 L1159.1 1086.2 L1160.8 1084.3 L1162.4 1082.4 L1163.9 1080.5 L1165.5 1078.5 L1167.1 1076.6 L1168.6 1074.6 L1170.1 1072.6 L1171.6 1070.6 L1173.1 1068.6 L1174.6 1066.6 L1176.0 1064.5 L1177.4 1062.5 L1178.9 1060.4 L1180.3 1058.3 L1181.6 1056.2 L1183.0 1054.1 L1184.4 1052.0 L1185.7 1049.9 L1187.0 1047.8 L1188.3 1045.6 L1189.6 1043.5 L1190.9 1041.3 L1192.2 1039.2 L1193.4 1037.0 L1194.6 1034.8 L1195.8 1032.6 L1197.0 1030.4 L1198.2 1028.1 L1199.3 1025.9 L1200.4 1023.7 L1201.5 1021.4 L1202.5 1019.1 L1203.5 1016.9 L1204.5 1014.6 L1205.4 1012.3 L1206.4 1009.9 L1207.2 1007.6 L1208.1 1005.3 L1208.9 1002.9 L1209.7 1000.5 L1210.5 998.2 L1211.2 995.8 L1212.0 993.4 L1212.7 991.0 L1213.3 988.6 L1214.0 986.2 L1214.6 983.8 L1215.2 981.3 L1215.8 978.9 L1216.4 976.5 L1217.0 974.0 L1217.6 971.6 L1218.1 969.2 L1218.6 966.7 L1219.1 964.3 L1219.7 961.8 L1220.2 959.3 L1220.7 956.9 L1221.1 954.4 L1221.6 952.0 L1222.1 949.5 L1222.5 947.1 L1223.0 944.6 L1223.4 942.1 L1223.9 939.7 L1224.3 937.2 L1224.7 934.7 L1225.1 932.3 L1225.5 929.8 L1225.9 927.3 L1226.3 924.8 L1226.7 922.4 L1227.1 919.9 L1227.5 917.4 L1227.8 914.9 L1228.2 912.5 L1228.6 910.0 L1228.9 907.5 L1229.3 905.0 L1229.6 902.6 L1230.0 900.1 L1230.3 897.6 L1230.7 895.1 L1231.0 892.6 L1231.4 890.2 L1231.7 887.7 L1232.1 885.2 L1232.4 882.7 L1232.7 880.2 L1233.1 877.7 L1233.4 875.3 L1233.7 872.8 L1234.1 870.3 L1234.4 867.8 L1234.7 865.3 L1235.1 862.9 L1235.4 860.4 L1235.8 857.9 L1236.1 855.4 L1236.4 852.9 L1236.8 850.5 L1237.1 848.0 L1237.5 845.5 L1237.8 843.0 L1238.2 840.6 L1238.6 838.1 L1238.9 835.6 L1239.3 833.1 L1239.7 830.7 L1240.0 828.2 L1240.4 825.7 L1240.8 823.2 L1241.2 820.8 L1241.6 818.3 L1241.9 815.8 L1242.3 813.4 L1242.7 810.9 L1243.1 808.4 L1243.5 806.0 L1243.9 803.5 L1244.3 801.0 L1244.7 798.6 L1245.1 796.1 L1245.5 793.6 L1245.9 791.2 L1246.3 788.7 L1246.8 786.2 L1247.2 783.8 L1247.6 781.3 L1248.0 778.8 L1248.4 776.4 L1248.8 773.9 L1249.2 771.4 L1249.6 769.0 L1250.0 766.5 L1250.5 764.0 L1250.9 761.6 L1251.3 759.1 L1251.7 756.6 L1252.1 754.2 L1252.5 751.7 L1252.9 749.2 L1253.3 746.8 L1253.7 744.3 L1254.1 741.8 L1254.5 739.3 L1254.9 736.9 L1255.3 734.4 L1255.7 731.9 L1256.1 729.5 L1256.5 727.0 L1256.9 724.5 L1257.3 722.0 L1257.7 719.6 L1258.1 717.1 L1258.5 714.6 L1258.9 712.1 L1259.3 709.7 L1259.6 707.2 L1260.0 704.7 L1260.4 702.2 L1260.8 699.8 L1261.2 697.3 L1261.6 694.8 L1261.9 692.3 L1262.3 689.9 L1262.7 687.4 L1263.1 684.9 L1263.5 682.4 L1263.9 679.9 L1264.2 677.5 L1264.6 675.0 L1265.0 672.5 L1265.4 670.0 L1265.8 667.6 L1266.1 665.1 L1266.5 662.6 L1266.9 660.1 L1267.3 657.6 L1267.7 655.2 L1268.1 652.7 L1268.5 650.2 L1268.9 647.7 L1269.2 645.3 L1269.6 642.8 L1270.0 640.3 L1270.4 637.8 L1270.8 635.4 L1271.2 632.9 L1271.6 630.4 L1272.0 627.9 L1272.4 625.5 L1272.8 623.0 L1273.2 620.5 L1273.7 618.1 L1274.1 615.6 L1274.5 613.1 L1274.9 610.7 L1275.3 608.2 L1275.8 605.7 L1276.2 603.3 L1276.6 600.8 L1277.0 598.3 L1277.5 595.9 L1277.9 593.4 L1278.4 590.9 L1278.8 588.5 L1279.2 586.0 L1279.7 583.6 L1280.1 581.1 L1280.6 578.6 L1281.1 576.2 L1281.5 573.7 L1282.0 571.3 L1282.5 568.8 L1283.0 566.4 L1283.4 563.9 L1283.9 561.5 L1284.4 559.0 L1284.9 556.6 L1285.4 554.1 L1285.9 551.7 L1286.4 549.3 L1286.9 546.8 L1287.5 544.4 L1288.0 541.9 L1288.5 539.5 L1289.0 537.1 L1289.6 534.6 L1290.1 532.2 L1290.7 529.8 L1291.2 527.3 L1291.8 524.9 L1292.3 522.5 L1292.9 520.1 L1293.5 517.6 L1294.1 515.2 L1294.7 512.8 L1295.3 510.4 L1295.8 508.0 L1296.4 505.5 L1297.0 503.1 L1297.6 500.7 L1298.2 498.3 L1298.9 495.8 L1299.5 493.4 L1300.1 491.0 L1300.7 488.5 L1301.2 486.1 L1301.8 483.7 L1302.4 481.2 L1303.0 478.7 L1303.6 476.3 L1304.2 473.8 L1304.7 471.3 L1305.3 468.8 L1305.9 466.3 L1306.4 463.8 L1306.9 461.3 L1307.5 458.8 L1308.0 456.3 L1308.6 453.8 L1309.1 451.3 L1309.7 448.8 L1310.4 446.4 L1311.1 444.0 L1311.9 441.6 L1312.8 439.3 L1313.7 437.1 L1314.8 435.0 L1316.0 432.9 L1317.3 431.0 L1318.8 429.1 L1320.4 427.4 L1322.1 425.8 L1324.1 424.3 L1326.2 422.9 L1328.4 421.9 L1330.6 421.2 L1332.9 421.1 L1335.0 421.7 L1337.0 423.0 L1338.9 425.1 L1340.5 427.5 L1341.8 430.0 L1343.0 432.5 L1344.0 434.9 L1344.8 437.4 L1345.5 439.8 L1346.1 442.2 L1346.7 444.6 L1347.2 447.0 L1347.7 449.4 L1348.3 451.8 L1348.8 454.2 L1349.3 456.7 L1349.8 459.1 L1350.4 461.5 L1350.9 463.9 L1351.4 466.4 L1351.9 468.8 L1352.5 471.3 L1353.0 473.7 L1353.5 476.2 L1354.0 478.6 L1354.5 481.1 L1355.0 483.5 L1355.5 486.0 L1355.9 488.5 L1356.4 490.9 L1356.9 493.4 L1357.4 495.8 L1357.8 498.3 L1358.3 500.8 L1358.7 503.2 L1359.1 505.7 L1359.6 508.2 L1360.0 510.6 L1360.4 513.1 L1360.8 515.6 L1361.2 518.0 L1361.6 520.5 L1362.0 523.0 L1362.4 525.5 L1362.8 527.9 L1363.2 530.4 L1363.6 532.9 L1364.0 535.4 L1364.3 537.8 L1364.7 540.3 L1365.1 542.8 L1365.4 545.3 L1365.8 547.7 L1366.1 550.2 L1366.5 552.7 L1366.8 555.2 L1367.2 557.6 L1367.5 560.1 L1367.8 562.6 L1368.2 565.1 L1368.5 567.6 L1368.8 570.1 L1369.1 572.5 L1369.5 575.0 L1369.8 577.5 L1370.1 580.0 L1370.4 582.5 L1370.7 585.0 L1371.0 587.4 L1371.3 589.9 L1371.6 592.4 L1371.9 594.9 L1372.2 597.4 L1372.5 599.9 L1372.8 602.3 L1373.1 604.8 L1373.4 607.3 L1373.6 609.8 L1373.9 612.3 L1374.2 614.8 L1374.5 617.3 L1374.8 619.8 L1375.1 622.2 L1375.3 624.7 L1375.6 627.2 L1375.9 629.7 L1376.2 632.2 L1376.5 634.7 L1376.7 637.2 L1377.0 639.7 L1377.3 642.1 L1377.6 644.6 L1377.9 647.1 L1378.1 649.6 L1378.4 652.1 L1378.7 654.6 L1379.0 657.1 L1379.3 659.5 L1379.6 662.0 L1379.8 664.5 L1380.1 667.0 L1380.4 669.5 L1380.7 672.0 L1381.0 674.5 L1381.3 677.0 L1381.6 679.4 L1381.9 681.9 L1382.2 684.4 L1382.5 686.9 L1382.8 689.4 L1383.1 691.9 L1383.4 694.3 L1383.7 696.8 L1384.0 699.3 L1384.3 701.8 L1384.6 704.3 L1384.9 706.8 L1385.2 709.2 L1385.5 711.7 L1385.8 714.2 L1386.1 716.7 L1386.4 719.2 L1386.7 721.7 L1387.0 724.1 L1387.3 726.6 L1387.6 729.1 L1387.9 731.6 L1388.3 734.1 L1388.6 736.6 L1388.9 739.0 L1389.2 741.5 L1389.5 744.0 L1389.8 746.5 L1390.1 749.0 L1390.5 751.5 L1390.8 753.9 L1391.1 756.4 L1391.4 758.9 L1391.7 761.4 L1392.0 763.9 L1392.4 766.3 L1392.7 768.8 L1393.0 771.3 L1393.3 773.8 L1393.6 776.3 L1393.9 778.8 L1394.3 781.2 L1394.6 783.7 L1394.9 786.2 L1395.2 788.7 L1395.5 791.2 L1395.8 793.6 L1396.2 796.1 L1396.5 798.6 L1396.8 801.1 L1397.1 803.6 L1397.4 806.1 L1397.7 808.5 L1398.1 811.0 L1398.4 813.5 L1398.7 816.0 L1399.0 818.5 L1399.3 821.0 L1399.6 823.4 L1399.9 825.9 L1400.2 828.4 L1400.6 830.9 L1400.9 833.4 L1401.2 835.9 L1401.5 838.3 L1401.8 840.8 L1402.1 843.3 L1402.4 845.8 L1402.7 848.3 L1403.0 850.8 L1403.3 853.2 L1403.6 855.7 L1403.9 858.2 L1404.2 860.7 L1404.5 863.2 L1404.8 865.7 L1405.1 868.2 L1405.4 870.6 L1405.7 873.1 L1406.0 875.6 L1406.3 878.1 L1406.6 880.6 L1406.9 883.1 L1407.2 885.6 L1407.5 888.1 L1407.7 890.5 L1408.0 893.0 L1408.3 895.5 L1408.6 898.0 L1408.9 900.5 L1409.2 903.0 L1409.4 905.5 L1409.7 908.0 L1410.0 910.4 L1410.3 912.9 L1410.6 915.4 L1410.8 917.9 L1411.1 920.4 L1411.4 922.9 L1411.7 925.4 L1411.9 927.9 L1412.2 930.4 L1412.5 932.9 L1412.8 935.3 L1413.0 937.8 L1413.3 940.3 L1413.6 942.8 L1413.8 945.3 L1414.1 947.8 L1414.4 950.3 L1414.7 952.8 L1414.9 955.3 L1415.2 957.8 L1415.5 960.2 L1415.8 962.7 L1416.0 965.2 L1416.3 967.7 L1416.6 970.2 L1416.9 972.7 L1417.1 975.2 L1417.4 977.7 L1417.7 980.2 L1418.0 982.6 L1418.3 985.1 L1418.5 987.6 L1418.8 990.1 L1419.1 992.6 L1419.4 995.1 L1419.7 997.6 L1420.0 1000.1 L1420.3 1002.5 L1420.6 1005.0 L1420.8 1007.5 L1421.1 1010.0 L1421.4 1012.5 L1421.7 1015.0 L1422.0 1017.5 L1422.3 1019.9 L1422.6 1022.4 L1422.9 1024.9 L1423.2 1027.4 L1423.5 1029.9 L1423.8 1032.4 L1424.2 1034.8 L1424.5 1037.3 L1424.8 1039.8 L1425.1 1042.3 L1425.4 1044.8 L1425.7 1047.2 L1426.1 1049.7 L1426.4 1052.2 L1426.7 1054.7 L1427.1 1057.2 L1427.4 1059.6 L1427.7 1062.1 L1428.1 1064.6 L1428.4 1067.1 L1428.8 1069.5 L1429.1 1072.0 L1429.5 1074.5 L1429.8 1077.0 L1430.2 1079.4 L1430.5 1081.9 L1430.9 1084.4 L1431.3 1086.9 L1431.6 1089.3 L1432.0 1091.8 L1432.4 1094.3 L1432.7 1096.7 L1433.1 1099.2 L1433.5 1101.7 L1433.9 1104.1 L1434.3 1106.6 L1434.7 1109.1 L1435.1 1111.5 L1435.5 1114.0 L1435.9 1116.5 L1436.3 1118.9 L1436.7 1121.4 L1437.1 1123.9 L1437.5 1126.3 L1438.0 1128.8 L1438.4 1131.3 L1438.8 1133.7 L1439.2 1136.2 L1439.7 1138.6 L1440.1 1141.1 L1440.5 1143.6 L1441.0 1146.0 L1441.4 1148.5 L1441.8 1151.0 L1442.3 1153.4 L1442.7 1155.9 L1443.2 1158.4 L1443.6 1160.8 L1444.1 1163.3 L1444.5 1165.7 L1445.0 1168.2 L1445.5 1170.7 L1445.9 1173.1 L1446.4 1175.6 L1446.8 1178.1 L1447.3 1180.5 L1447.8 1183.0 L1448.2 1185.5 L1448.7 1187.9 L1449.2 1190.4 L1449.7 1192.9 L1450.1 1195.3 L1450.6 1197.8 L1451.1 1200.3 L1451.6 1202.8 L1452.1 1205.2 L1452.6 1207.7 L1453.1 1210.2 L1453.6 1212.6 L1454.1 1215.1 L1454.6 1217.6 L1455.1 1220.0 L1455.6 1222.5 L1456.2 1224.9 L1456.7 1227.4 L1457.3 1229.8 L1457.9 1232.3 L1458.5 1234.7 L1459.1 1237.2 L1459.7 1239.6 L1460.3 1242.0 L1461.0 1244.4 L1461.7 1246.8 L1462.4 1249.2 L1463.1 1251.6 L1463.8 1254.0 L1464.6 1256.3 L1465.4 1258.7 L1466.2 1261.0 L1467.0 1263.4 L1467.9 1265.7 L1468.8 1268.0 L1469.7 1270.3 L1470.6 1272.6 L1471.6 1274.9 L1472.6 1277.2 L1473.6 1279.4 L1474.7 1281.6 L1475.8 1283.9 L1476.9 1286.1 L1478.1 1288.3 L1479.3 1290.4 L1480.6 1292.6 L1481.9 1294.7 L1483.2 1296.8 L1484.5 1298.9 L1486.0 1301.0 L1487.4 1303.0 L1488.9 1305.1 L1490.4 1307.0 L1492.0 1309.0 L1493.6 1310.8 L1495.3 1312.7 L1497.0 1314.5 L1498.8 1316.2 L1500.6 1317.9 L1502.5 1319.6 L1504.4 1321.2 L1506.4 1322.7 L1508.4 1324.1 L1510.5 1325.5 L1512.6 1326.8 L1514.8 1328.1 L1517.0 1329.3 L1519.3 1330.4 L1521.6 1331.5 L1523.8 1332.7 L1526.1 1333.8 L1528.4 1334.9 L1530.7 1336.0 L1532.9 1337.2 L1535.1 1338.4 L1537.3 1339.7 L1539.4 1341.0 L1541.4 1342.5 L1543.4 1344.0 L1545.3 1345.5 L1547.3 1347.0 L1549.3 1348.4 L1551.4 1349.8 L1553.5 1351.1 L1555.7 1352.3 L1557.9 1353.4 L1560.2 1354.3 L1562.6 1355.2 L1565.0 1355.9 L1567.4 1356.4 L1569.8 1356.8 L1572.3 1357.1 L1574.8 1357.2 L1577.2 1357.1 L1579.7 1356.9 L1582.1 1356.6 L1584.6 1356.2 L1587.1 1355.7 L1589.5 1355.2 L1592.0 1354.7 L1594.4 1354.2 L1596.9 1353.6 L1599.4 1353.1 L1601.8 1352.6 L1604.3 1352.1 L1606.8 1351.6 L1609.2 1351.1 L1611.7 1350.6 L1614.2 1350.1 L1616.6 1349.6 L1619.1 1349.2 L1621.6 1348.8 L1624.0 1348.3 L1626.5 1347.9 L1629.0 1347.6 L1631.5 1347.2 L1633.9 1346.9 L1636.4 1346.6 L1638.9 1346.3 L1641.4 1346.1 L1643.9 1345.8 L1646.3 1345.7 L1648.8 1345.5 L1651.3 1345.4 L1653.8 1345.3 L1656.3 1345.2 L1658.8 1345.1 L1661.3 1345.1 L1663.8 1345.1 L1666.3 1345.1 L1668.8 1345.1 L1671.3 1345.2 L1673.8 1345.2 L1676.3 1345.3 L1678.8 1345.4 L1681.3 1345.5 L1683.8 1345.6 L1686.3 1345.8 L1688.8 1345.9 L1691.3 1346.1 L1693.8 1346.2 L1696.3 1346.4 L1698.8 1346.6 L1701.3 1346.8 L1703.8 1346.9 L1706.3 1347.1 L1708.8 1347.3 L1711.3 1347.5 L1713.9 1347.7 L1716.4 1347.9 L1718.9 1348.1 L1721.4 1348.3 L1723.9 1348.5 L1726.4 1348.7 L1728.9 1348.9 L1731.4 1349.0 L1733.9 1349.2 L1736.3 1349.4 L1738.8 1349.5 L1741.3 1349.7 L1743.8 1349.8 L1746.3 1349.9 L1748.8 1350.0 L1751.3 1350.1 L1753.8 1350.2 L1756.2 1350.2 L1758.7 1350.3 L1761.2 1350.3 L1763.7 1350.4 L1766.2 1350.4 L1768.7 1350.5 L1771.1 1350.5 L1773.6 1350.6 L1776.1 1350.7 L1778.6 1350.8 L1781.1 1350.9 L1783.6 1351.0 L1786.1 1351.2 L1788.5 1351.4 L1791.0 1351.6 L1793.5 1351.9 L1796.1 1352.2 L1798.6 1352.5 L1801.1 1352.9 L1803.6 1353.3 L1806.1 1353.8 L1808.6 1354.2 L1811.1 1354.7 L1813.7 1355.2 L1816.2 1355.6 L1818.6 1356.0 L1821.1 1356.3 L1823.6 1356.6 L1826.0 1356.9 L1828.5 1357.0 L1830.9 1357.1 L1833.2 1357.0 L1835.6 1356.8 L1837.9 1356.5 L1840.2 1356.1 L1842.5 1355.4 L1844.7 1354.7 L1846.9 1353.7 L1849.0 1352.5 L1851.1 1351.2 L1853.2 1349.7 L1855.3 1348.1 L1857.4 1346.5 L1859.5 1344.9 L1861.7 1343.4 L1863.9 1341.9 L1866.2 1340.7 L1868.6 1339.6 L1871.1 1338.8 L1873.7 1338.3 L1876.2 1337.9 L1878.6 1337.8 L1880.9 1337.9 L1883.1 1338.2 L1885.3 1338.6 L1887.4 1339.2 L1889.6 1340.0 L1891.7 1340.8 L1893.9 1341.8 L1896.1 1342.8 L1898.4 1343.9 L1900.7 1345.0 L1903.1 1346.1 L1905.5 1347.2 L1907.9 1348.3 L1910.4 1349.3 L1912.8 1350.3 L1915.3 1351.1 L1917.8 1351.9 L1920.2 1352.5 L1922.7 1353.0 L1925.1 1353.3 L1927.4 1353.4 L1929.8 1353.3 L1932.0 1352.9 L1934.3 1352.3 L1936.4 1351.5 L1938.5 1350.4 L1940.6 1349.1 L1942.6 1347.6 L1944.6 1346.1 L1946.5 1344.4 L1948.5 1342.7 L1950.5 1341.0 L1952.4 1339.3 L1954.4 1337.7 L1956.4 1336.2 L1958.4 1334.8 L1960.4 1333.5 L1962.5 1332.3 L1964.6 1331.3 L1966.8 1330.5 L1969.0 1329.8 L1971.3 1329.4 L1973.6 1329.1 L1976.0 1329.0 L1978.5 1329.1 L1980.9 1329.3 L1983.4 1329.7 L1985.9 1330.1 L1988.5 1330.6 L1991.1 1331.1 L1993.6 1331.7 L1996.2 1332.3 L1998.7 1332.8 L2001.3 1333.3 L2003.8 1333.7 L2006.3 1334.0 L2008.8 1334.3 L2011.3 1334.3 L2013.6 1334.3 L2016.0 1334.0" stroke="#0ff" stroke-width="4.2" fill="none" stroke-linejoin="round"/>
<path d="M258.0 1330.2 L260.3 1330.7 L262.7 1331.2 L265.1 1331.7 L267.5 1332.2 L270.0 1332.8 L272.5 1333.3 L274.9 1333.9 L277.4 1334.5 L279.9 1335.0 L282.4 1335.5 L285.0 1336.0 L287.5 1336.5 L290.0 1336.9 L292.5 1337.3 L295.1 1337.6 L297.6 1337.8 L300.1 1338.0 L302.6 1338.1 L305.1 1338.1 L307.5 1338.0 L310.0 1337.8 L312.4 1337.6 L314.9 1337.2 L317.3 1336.8 L319.7 1336.3 L322.1 1335.8 L324.5 1335.2 L326.8 1334.5 L329.2 1333.8 L331.6 1333.1 L334.0 1332.4 L336.4 1331.6 L338.7 1330.8 L341.1 1330.1 L343.5 1329.3 L345.9 1328.5 L348.3 1327.7 L350.7 1327.0 L353.2 1326.3 L355.6 1325.6 L358.0 1324.9 L360.5 1324.3 L362.9 1323.7 L365.4 1323.2 L367.9 1322.7 L370.3 1322.2 L372.8 1321.8 L375.3 1321.5 L377.7 1321.2 L380.2 1321.0 L382.7 1320.9 L385.2 1320.8 L387.6 1320.9 L390.1 1321.0 L392.6 1321.1 L395.0 1321.4 L397.5 1321.8 L399.9 1322.2 L402.4 1322.7 L404.8 1323.2 L407.2 1323.8 L409.7 1324.5 L412.1 1325.1 L414.5 1325.8 L417.0 1326.4 L419.4 1327.1 L421.8 1327.7 L424.3 1328.4 L426.7 1328.9 L429.1 1329.5 L431.6 1329.9 L434.0 1330.4 L436.5 1330.7 L439.0 1330.9 L441.4 1331.1 L443.9 1331.2 L446.4 1331.2 L448.9 1331.1 L451.3 1331.0 L453.8 1330.8 L456.3 1330.5 L458.8 1330.2 L461.2 1329.9 L463.7 1329.5 L466.2 1329.1 L468.6 1328.6 L471.1 1328.1 L473.5 1327.6 L476.0 1327.1 L478.4 1326.5 L480.8 1325.9 L483.2 1325.4 L485.6 1324.8 L488.0 1324.3 L490.4 1323.8 L492.8 1323.4 L495.2 1323.1 L497.6 1322.9 L500.0 1322.8 L502.5 1322.9 L504.9 1323.1 L507.4 1323.4 L509.9 1323.9 L512.3 1324.5 L514.8 1325.1 L517.3 1325.8 L519.8 1326.4 L522.4 1326.9 L524.8 1327.4 L527.3 1327.8 L529.8 1328.0 L532.3 1328.3 L534.8 1328.4 L537.3 1328.5 L539.8 1328.5 L542.2 1328.4 L544.7 1328.3 L547.2 1328.2 L549.7 1328.0 L552.1 1327.7 L554.6 1327.4 L557.1 1327.1 L559.5 1326.7 L562.0 1326.3 L564.4 1325.9 L566.9 1325.4 L569.4 1325.0 L571.8 1324.5 L574.3 1324.0 L576.8 1323.5 L579.2 1323.0 L581.7 1322.5 L584.2 1322.0 L586.6 1321.5 L589.1 1321.0 L591.6 1320.5 L594.1 1320.0 L596.5 1319.6 L599.0 1319.2 L601.5 1318.8 L604.0 1318.5 L606.5 1318.2 L609.0 1317.9 L611.5 1317.7 L613.9 1317.5 L616.4 1317.3 L618.9 1317.2 L621.4 1317.0 L623.9 1316.9 L626.4 1316.8 L628.9 1316.8 L631.5 1316.7 L634.0 1316.6 L636.5 1316.5 L639.0 1316.5 L641.5 1316.4 L644.0 1316.3 L646.5 1316.2 L648.9 1316.1 L651.4 1315.9 L653.9 1315.8 L656.4 1315.6 L658.9 1315.4 L661.4 1315.1 L663.8 1314.8 L666.3 1314.5 L668.8 1314.2 L671.2 1313.8 L673.7 1313.4 L676.1 1312.9 L678.6 1312.5 L681.0 1312.0 L683.5 1311.4 L685.9 1310.9 L688.3 1310.3 L690.8 1309.7 L693.2 1309.0 L695.6 1308.4 L698.0 1307.7 L700.4 1307.0 L702.8 1306.2 L705.2 1305.4 L707.5 1304.6 L709.9 1303.8 L712.3 1303.0 L714.7 1302.1 L717.0 1301.3 L719.4 1300.5 L721.8 1299.6 L724.1 1298.8 L726.5 1298.1 L728.9 1297.3 L731.3 1296.6 L733.7 1296.0 L736.1 1295.4 L738.6 1294.9 L741.0 1294.4 L743.5 1294.0 L745.9 1293.6 L748.4 1293.2 L750.9 1292.8 L753.3 1292.4 L755.8 1291.9 L758.3 1291.5 L760.7 1290.9 L763.2 1290.3 L765.6 1289.8 L768.0 1289.1 L770.5 1288.5 L772.9 1287.9 L775.4 1287.2 L777.8 1286.6 L780.2 1286.0 L782.7 1285.4 L785.1 1284.8 L787.5 1284.3 L790.0 1283.8 L792.4 1283.3 L794.9 1283.0 L797.4 1282.6 L799.8 1282.4 L802.3 1282.2 L804.8 1282.1 L807.3 1282.1 L809.8 1282.2 L812.3 1282.3 L814.8 1282.5 L817.3 1282.7 L819.8 1283.0 L822.3 1283.3 L824.9 1283.6 L827.4 1284.0 L829.9 1284.3 L832.4 1284.6 L834.9 1285.0 L837.4 1285.2 L839.9 1285.5 L842.4 1285.7 L844.9 1285.8 L847.4 1285.9 L849.8 1285.9 L852.3 1285.8 L854.7 1285.7 L857.1 1285.4 L859.5 1285.1 L861.9 1284.6 L864.3 1284.1 L866.7 1283.5 L869.1 1282.8 L871.4 1282.1 L873.8 1281.3 L876.1 1280.5 L878.5 1279.7 L880.8 1278.8 L883.2 1278.0 L885.5 1277.1 L887.9 1276.2 L890.3 1275.4 L892.6 1274.6 L895.0 1273.8 L897.4 1273.1 L899.8 1272.4 L902.2 1271.8 L904.6 1271.2 L907.0 1270.8 L909.4 1270.4 L911.9 1270.1 L914.3 1269.9 L916.8 1269.8 L919.3 1269.7 L921.8 1269.7 L924.3 1269.7 L926.9 1269.8 L929.4 1270.0 L931.9 1270.1 L934.5 1270.3 L937.0 1270.5 L939.5 1270.6 L942.1 1270.8 L944.6 1271.0 L947.1 1271.1 L949.7 1271.2 L952.2 1271.2 L954.7 1271.2 L957.2 1271.2 L959.7 1271.0 L962.2 1270.8 L964.6 1270.6 L967.1 1270.2 L969.5 1269.8 L972.0 1269.3 L974.4 1268.7 L976.8 1268.1 L979.2 1267.4 L981.6 1266.7 L983.9 1265.9 L986.3 1265.1 L988.6 1264.2 L990.9 1263.3 L993.2 1262.3 L995.5 1261.3 L997.8 1260.3 L1000.0 1259.2 L1002.3 1258.1 L1004.5 1257.0 L1006.7 1255.8 L1008.9 1254.7 L1011.1 1253.4 L1013.2 1252.2 L1015.4 1250.9 L1017.5 1249.6 L1019.6 1248.3 L1021.8 1246.9 L1023.8 1245.5 L1025.9 1244.1 L1028.0 1242.7 L1030.1 1241.3 L1032.1 1239.8 L1034.1 1238.4 L1036.2 1236.9 L1038.2 1235.4 L1040.2 1233.8 L1042.2 1232.3 L1044.1 1230.7 L1046.1 1229.2 L1048.1 1227.6 L1050.0 1226.0 L1052.0 1224.4 L1053.9 1222.8 L1055.8 1221.2 L1057.7 1219.6 L1059.7 1217.9 L1061.5 1216.3 L1063.4 1214.6 L1065.3 1213.0 L1067.2 1211.4 L1069.1 1209.7 L1070.9 1208.1 L1072.8 1206.4 L1074.6 1204.8 L1076.5 1203.1 L1078.4 1201.5 L1080.2 1199.9 L1082.1 1198.2 L1083.9 1196.6 L1085.8 1195.0 L1087.7 1193.3 L1089.6 1191.7 L1091.5 1190.1 L1093.4 1188.5 L1095.4 1186.9 L1097.3 1185.3 L1099.3 1183.7 L1101.3 1182.2 L1103.2 1180.6 L1105.2 1179.0 L1107.2 1177.4 L1109.2 1175.8 L1111.1 1174.2 L1113.0 1172.5 L1114.9 1170.9 L1116.7 1169.2 L1118.4 1167.5 L1120.2 1165.7 L1121.9 1163.9 L1123.5 1162.1 L1125.2 1160.3 L1126.8 1158.5 L1128.4 1156.7 L1130.1 1154.8 L1131.7 1153.0 L1133.4 1151.2 L1135.1 1149.3 L1136.7 1147.5 L1138.4 1145.7 L1140.1 1143.8 L1141.8 1142.0 L1143.5 1140.1 L1145.2 1138.2 L1146.9 1136.4 L1148.6 1134.5 L1150.3 1132.6 L1151.9 1130.7 L1153.6 1128.8 L1155.3 1126.9 L1156.9 1125.0 L1158.6 1123.1 L1160.2 1121.2 L1161.9 1119.2 L1163.5 1117.3 L1165.1 1115.3 L1166.6 1113.4 L1168.2 1111.4 L1169.8 1109.4 L1171.3 1107.4 L1172.8 1105.4 L1174.3 1103.4 L1175.7 1101.3 L1177.2 1099.3 L1178.6 1097.2 L1180.0 1095.1 L1181.3 1093.0 L1182.6 1090.9 L1183.9 1088.8 L1185.2 1086.6 L1186.4 1084.5 L1187.6 1082.3 L1188.8 1080.1 L1190.0 1077.9 L1191.1 1075.7 L1192.2 1073.5 L1193.3 1071.2 L1194.3 1069.0 L1195.4 1066.7 L1196.4 1064.4 L1197.4 1062.2 L1198.3 1059.9 L1199.3 1057.6 L1200.2 1055.3 L1201.1 1052.9 L1202.0 1050.6 L1202.9 1048.3 L1203.7 1045.9 L1204.6 1043.6 L1205.4 1041.2 L1206.2 1038.8 L1207.0 1036.5 L1207.8 1034.1 L1208.5 1031.7 L1209.3 1029.3 L1210.0 1026.9 L1210.8 1024.5 L1211.5 1022.1 L1212.2 1019.7 L1212.9 1017.3 L1213.6 1014.9 L1214.3 1012.5 L1215.0 1010.1 L1215.6 1007.6 L1216.3 1005.2 L1217.0 1002.8 L1217.6 1000.4 L1218.3 998.0 L1218.9 995.6 L1219.6 993.1 L1220.2 990.7 L1220.8 988.3 L1221.5 985.9 L1222.1 983.4 L1222.7 981.0 L1223.3 978.6 L1223.9 976.1 L1224.5 973.7 L1225.1 971.3 L1225.7 968.9 L1226.3 966.4 L1226.9 964.0 L1227.5 961.5 L1228.0 959.1 L1228.6 956.7 L1229.2 954.2 L1229.8 951.8 L1230.3 949.4 L1230.9 946.9 L1231.4 944.5 L1232.0 942.0 L1232.6 939.6 L1233.1 937.2 L1233.7 934.7 L1234.2 932.3 L1234.8 929.8 L1235.3 927.4 L1235.8 924.9 L1236.4 922.5 L1236.9 920.1 L1237.5 917.6 L1238.0 915.2 L1238.5 912.7 L1239.1 910.3 L1239.6 907.8 L1240.2 905.4 L1240.7 902.9 L1241.2 900.5 L1241.8 898.1 L1242.3 895.6 L1242.8 893.2 L1243.4 890.7 L1243.9 888.3 L1244.5 885.8 L1245.0 883.4 L1245.5 880.9 L1246.1 878.5 L1246.6 876.1 L1247.2 873.6 L1247.7 871.2 L1248.3 868.7 L1248.8 866.3 L1249.4 863.9 L1249.9 861.4 L1250.5 859.0 L1251.0 856.5 L1251.6 854.1 L1252.2 851.7 L1252.7 849.2 L1253.3 846.8 L1253.9 844.4 L1254.5 841.9 L1255.0 839.5 L1255.6 837.1 L1256.2 834.6 L1256.8 832.2 L1257.4 829.8 L1258.0 827.3 L1258.6 824.9 L1259.2 822.5 L1259.8 820.1 L1260.4 817.6 L1261.1 815.2 L1261.7 812.8 L1262.3 810.4 L1263.0 808.0 L1263.6 805.5 L1264.3 803.1 L1264.9 800.7 L1265.6 798.3 L1266.3 795.9 L1266.9 793.5 L1267.6 791.1 L1268.3 788.7 L1269.0 786.2 L1269.7 783.8 L1270.4 781.4 L1271.1 779.0 L1271.8 776.6 L1272.5 774.2 L1273.2 771.8 L1273.9 769.4 L1274.6 767.0 L1275.3 764.6 L1276.0 762.2 L1276.7 759.8 L1277.4 757.4 L1278.1 755.0 L1278.8 752.6 L1279.5 750.2 L1280.2 747.8 L1280.9 745.4 L1281.5 743.0 L1282.2 740.5 L1282.9 738.1 L1283.5 735.7 L1284.2 733.3 L1284.8 730.9 L1285.5 728.5 L1286.1 726.0 L1286.7 723.6 L1287.3 721.2 L1287.9 718.8 L1288.5 716.3 L1289.1 713.9 L1289.7 711.5 L1290.2 709.0 L1290.8 706.6 L1291.3 704.1 L1291.8 701.7 L1292.3 699.2 L1292.8 696.8 L1293.3 694.3 L1293.8 691.9 L1294.2 689.4 L1294.6 686.9 L1295.0 684.4 L1295.4 682.0 L1295.8 679.5 L1296.2 677.0 L1296.6 674.5 L1296.9 672.0 L1297.3 669.6 L1297.7 667.1 L1298.0 664.6 L1298.4 662.1 L1298.7 659.6 L1299.1 657.1 L1299.4 654.6 L1299.8 652.2 L1300.2 649.7 L1300.6 647.2 L1301.0 644.7 L1301.4 642.3 L1301.8 639.8 L1302.2 637.3 L1302.7 634.9 L1303.1 632.4 L1303.6 630.0 L1304.1 627.5 L1304.6 625.1 L1305.1 622.6 L1305.6 620.2 L1306.1 617.8 L1306.6 615.3 L1307.1 612.9 L1307.7 610.5 L1308.2 608.0 L1308.7 605.6 L1309.2 603.1 L1309.8 600.7 L1310.3 598.3 L1310.8 595.8 L1311.3 593.4 L1311.8 590.9 L1312.3 588.5 L1312.8 586.0 L1313.3 583.6 L1313.8 581.1 L1314.2 578.6 L1314.7 576.2 L1315.2 573.7 L1315.6 571.2 L1316.0 568.8 L1316.5 566.3 L1316.9 563.8 L1317.3 561.3 L1317.7 558.8 L1318.1 556.3 L1318.5 553.8 L1318.9 551.4 L1319.3 548.9 L1319.7 546.4 L1320.1 543.9 L1320.4 541.4 L1320.8 538.9 L1321.2 536.4 L1321.6 533.9 L1322.0 531.5 L1322.3 529.0 L1322.7 526.5 L1323.1 524.0 L1323.5 521.5 L1323.9 519.0 L1324.3 516.6 L1324.7 514.1 L1325.1 511.6 L1325.5 509.2 L1325.9 506.7 L1326.3 504.3 L1326.7 501.8 L1327.2 499.4 L1327.6 496.9 L1328.1 494.5 L1328.5 492.1 L1329.0 489.6 L1329.4 487.2 L1329.9 484.8 L1330.4 482.4 L1330.9 480.0 L1331.4 477.6 L1331.9 475.2 L1332.5 472.8 L1333.0 470.4 L1333.5 468.0 L1334.1 465.5 L1334.6 463.1 L1335.2 460.7 L1335.8 458.2 L1336.3 455.8 L1336.9 453.3 L1337.5 450.8 L1338.1 448.3 L1338.7 445.7 L1339.3 443.2 L1339.9 440.6 L1340.5 438.0 L1341.1 435.4 L1341.7 432.8 L1342.4 430.2 L1343.2 427.7 L1344.1 425.3 L1345.1 423.0 L1346.2 420.8 L1347.6 418.9 L1349.2 417.2 L1351.0 415.8 L1352.9 414.8 L1354.8 414.5 L1356.7 414.8 L1358.6 415.8 L1360.3 417.2 L1361.8 418.8 L1363.3 420.5 L1364.6 422.3 L1365.8 424.2 L1366.9 426.3 L1367.9 428.4 L1368.7 430.6 L1369.5 432.9 L1370.3 435.2 L1370.9 437.6 L1371.5 440.1 L1372.0 442.6 L1372.5 445.1 L1373.0 447.7 L1373.4 450.3 L1373.8 452.9 L1374.2 455.5 L1374.5 458.1 L1374.9 460.8 L1375.3 463.3 L1375.7 465.9 L1376.1 468.5 L1376.5 471.0 L1376.9 473.5 L1377.3 476.0 L1377.8 478.5 L1378.2 481.0 L1378.7 483.4 L1379.1 485.9 L1379.6 488.3 L1380.0 490.8 L1380.5 493.2 L1380.9 495.7 L1381.4 498.1 L1381.8 500.5 L1382.2 502.9 L1382.7 505.4 L1383.1 507.8 L1383.6 510.2 L1384.0 512.6 L1384.4 515.1 L1384.8 517.5 L1385.2 520.0 L1385.6 522.4 L1386.0 524.9 L1386.4 527.3 L1386.8 529.8 L1387.1 532.2 L1387.5 534.7 L1387.9 537.2 L1388.3 539.6 L1388.6 542.1 L1389.0 544.6 L1389.3 547.0 L1389.7 549.5 L1390.0 552.0 L1390.3 554.5 L1390.7 556.9 L1391.0 559.4 L1391.3 561.9 L1391.6 564.4 L1392.0 566.9 L1392.3 569.4 L1392.6 571.9 L1392.9 574.3 L1393.2 576.8 L1393.5 579.3 L1393.8 581.8 L1394.1 584.3 L1394.4 586.8 L1394.7 589.3 L1395.0 591.8 L1395.3 594.3 L1395.5 596.8 L1395.8 599.3 L1396.1 601.8 L1396.4 604.2 L1396.7 606.7 L1397.0 609.2 L1397.2 611.7 L1397.5 614.2 L1397.8 616.7 L1398.1 619.2 L1398.3 621.7 L1398.6 624.2 L1398.9 626.7 L1399.1 629.2 L1399.4 631.7 L1399.7 634.2 L1399.9 636.7 L1400.2 639.2 L1400.4 641.7 L1400.7 644.1 L1401.0 646.6 L1401.2 649.1 L1401.5 651.6 L1401.7 654.1 L1402.0 656.6 L1402.2 659.1 L1402.5 661.6 L1402.7 664.1 L1403.0 666.6 L1403.2 669.1 L1403.5 671.6 L1403.7 674.1 L1404.0 676.6 L1404.2 679.1 L1404.4 681.5 L1404.7 684.0 L1404.9 686.5 L1405.2 689.0 L1405.4 691.5 L1405.6 694.0 L1405.9 696.5 L1406.1 699.0 L1406.3 701.5 L1406.6 704.0 L1406.8 706.5 L1407.0 709.0 L1407.3 711.5 L1407.5 714.0 L1407.7 716.5 L1407.9 718.9 L1408.2 721.4 L1408.4 723.9 L1408.6 726.4 L1408.8 728.9 L1409.1 731.4 L1409.3 733.9 L1409.5 736.4 L1409.7 738.9 L1410.0 741.4 L1410.2 743.9 L1410.4 746.4 L1410.6 748.9 L1410.8 751.4 L1411.1 753.9 L1411.3 756.3 L1411.5 758.8 L1411.7 761.3 L1411.9 763.8 L1412.1 766.3 L1412.4 768.8 L1412.6 771.3 L1412.8 773.8 L1413.0 776.3 L1413.2 778.8 L1413.4 781.3 L1413.6 783.8 L1413.8 786.3 L1414.1 788.8 L1414.3 791.3 L1414.5 793.7 L1414.7 796.2 L1414.9 798.7 L1415.1 801.2 L1415.3 803.7 L1415.5 806.2 L1415.7 808.7 L1416.0 811.2 L1416.2 813.7 L1416.4 816.2 L1416.6 818.7 L1416.8 821.2 L1417.0 823.7 L1417.2 826.2 L1417.4 828.6 L1417.6 831.1 L1417.8 833.6 L1418.1 836.1 L1418.3 838.6 L1418.5 841.1 L1418.7 843.6 L1418.9 846.1 L1419.1 848.6 L1419.3 851.1 L1419.5 853.6 L1419.7 856.1 L1419.9 858.6 L1420.2 861.1 L1420.4 863.5 L1420.6 866.0 L1420.8 868.5 L1421.0 871.0 L1421.2 873.5 L1421.4 876.0 L1421.6 878.5 L1421.9 881.0 L1422.1 883.5 L1422.3 886.0 L1422.5 888.5 L1422.7 891.0 L1422.9 893.5 L1423.1 896.0 L1423.4 898.4 L1423.6 900.9 L1423.8 903.4 L1424.0 905.9 L1424.2 908.4 L1424.5 910.9 L1424.7 913.4 L1424.9 915.9 L1425.1 918.4 L1425.3 920.9 L1425.6 923.4 L1425.8 925.9 L1426.0 928.4 L1426.2 930.9 L1426.4 933.3 L1426.7 935.8 L1426.9 938.3 L1427.1 940.8 L1427.4 943.3 L1427.6 945.8 L1427.8 948.3 L1428.0 950.8 L1428.3 953.3 L1428.5 955.8 L1428.7 958.3 L1429.0 960.8 L1429.2 963.3 L1429.4 965.7 L1429.7 968.2 L1429.9 970.7 L1430.2 973.2 L1430.4 975.7 L1430.6 978.2 L1430.9 980.7 L1431.1 983.2 L1431.4 985.7 L1431.6 988.2 L1431.9 990.7 L1432.1 993.2 L1432.4 995.7 L1432.6 998.2 L1432.9 1000.6 L1433.1 1003.1 L1433.4 1005.6 L1433.6 1008.1 L1433.9 1010.6 L1434.1 1013.1 L1434.4 1015.6 L1434.6 1018.1 L1434.9 1020.6 L1435.2 1023.1 L1435.4 1025.6 L1435.7 1028.1 L1436.0 1030.6 L1436.2 1033.0 L1436.5 1035.5 L1436.8 1038.0 L1437.0 1040.5 L1437.3 1043.0 L1437.6 1045.5 L1437.9 1048.0 L1438.1 1050.5 L1438.4 1053.0 L1438.7 1055.5 L1439.0 1058.0 L1439.3 1060.5 L1439.6 1062.9 L1439.9 1065.4 L1440.2 1067.9 L1440.5 1070.4 L1440.8 1072.9 L1441.1 1075.4 L1441.4 1077.9 L1441.7 1080.4 L1442.0 1082.8 L1442.3 1085.3 L1442.6 1087.8 L1443.0 1090.3 L1443.3 1092.8 L1443.6 1095.3 L1443.9 1097.8 L1444.3 1100.2 L1444.6 1102.7 L1445.0 1105.2 L1445.3 1107.7 L1445.7 1110.2 L1446.0 1112.6 L1446.4 1115.1 L1446.7 1117.6 L1447.1 1120.1 L1447.5 1122.6 L1447.9 1125.0 L1448.2 1127.5 L1448.6 1130.0 L1449.0 1132.4 L1449.4 1134.9 L1449.8 1137.4 L1450.2 1139.9 L1450.6 1142.3 L1451.0 1144.8 L1451.5 1147.3 L1451.9 1149.7 L1452.3 1152.2 L1452.7 1154.6 L1453.2 1157.1 L1453.6 1159.6 L1454.1 1162.0 L1454.5 1164.5 L1455.0 1166.9 L1455.5 1169.4 L1456.0 1171.8 L1456.4 1174.3 L1456.9 1176.7 L1457.4 1179.2 L1457.9 1181.6 L1458.4 1184.1 L1458.9 1186.5 L1459.5 1189.0 L1460.0 1191.4 L1460.5 1193.8 L1461.0 1196.3 L1461.6 1198.7 L1462.1 1201.2 L1462.7 1203.6 L1463.3 1206.0 L1463.8 1208.4 L1464.4 1210.9 L1465.0 1213.3 L1465.6 1215.7 L1466.2 1218.1 L1466.8 1220.6 L1467.4 1223.0 L1468.1 1225.4 L1468.7 1227.8 L1469.4 1230.2 L1470.0 1232.6 L1470.7 1235.0 L1471.3 1237.4 L1472.0 1239.8 L1472.7 1242.2 L1473.4 1244.6 L1474.1 1247.0 L1474.9 1249.4 L1475.6 1251.8 L1476.4 1254.2 L1477.2 1256.6 L1477.9 1259.0 L1478.8 1261.3 L1479.6 1263.7 L1480.5 1266.1 L1481.3 1268.4 L1482.2 1270.8 L1483.2 1273.1 L1484.1 1275.5 L1485.1 1277.8 L1486.1 1280.2 L1487.1 1282.5 L1488.1 1284.8 L1489.2 1287.1 L1490.3 1289.4 L1491.5 1291.7 L1492.7 1293.9 L1493.9 1296.1 L1495.2 1298.3 L1496.5 1300.5 L1497.8 1302.6 L1499.2 1304.6 L1500.7 1306.6 L1502.2 1308.6 L1503.7 1310.5 L1505.3 1312.3 L1507.0 1314.1 L1508.7 1315.8 L1510.5 1317.4 L1512.4 1318.9 L1514.3 1320.4 L1516.3 1321.8 L1518.3 1323.1 L1520.4 1324.3 L1522.6 1325.5 L1524.8 1326.5 L1527.1 1327.5 L1529.4 1328.4 L1531.8 1329.2 L1534.2 1329.9 L1536.6 1330.6 L1539.1 1331.1 L1541.6 1331.6 L1544.1 1332.1 L1546.6 1332.4 L1549.1 1332.7 L1551.6 1332.8 L1554.2 1333.0 L1556.7 1333.0 L1559.2 1333.0 L1561.7 1332.9 L1564.2 1332.7 L1566.7 1332.5 L1569.2 1332.2 L1571.7 1331.8 L1574.1 1331.4 L1576.6 1331.0 L1579.0 1330.5 L1581.5 1330.0 L1583.9 1329.5 L1586.4 1329.0 L1588.8 1328.4 L1591.2 1327.8 L1593.7 1327.2 L1596.1 1326.6 L1598.5 1326.0 L1600.9 1325.4 L1603.4 1324.8 L1605.8 1324.3 L1608.2 1323.7 L1610.7 1323.2 L1613.1 1322.7 L1615.6 1322.2 L1618.0 1321.8 L1620.5 1321.3 L1622.9 1320.9 L1625.4 1320.6 L1627.9 1320.2 L1630.3 1319.9 L1632.8 1319.6 L1635.3 1319.3 L1637.7 1319.0 L1640.2 1318.8 L1642.7 1318.6 L1645.2 1318.4 L1647.7 1318.2 L1650.2 1318.0 L1652.7 1317.9 L1655.2 1317.8 L1657.7 1317.6 L1660.2 1317.6 L1662.7 1317.5 L1665.2 1317.4 L1667.7 1317.4 L1670.2 1317.3 L1672.7 1317.3 L1675.2 1317.3 L1677.7 1317.3 L1680.2 1317.4 L1682.7 1317.4 L1685.3 1317.4 L1687.8 1317.5 L1690.3 1317.5 L1692.8 1317.6 L1695.3 1317.7 L1697.8 1317.8 L1700.3 1317.9 L1702.8 1318.0 L1705.3 1318.1 L1707.8 1318.2 L1710.3 1318.3 L1712.8 1318.4 L1715.3 1318.5 L1717.8 1318.6 L1720.3 1318.7 L1722.8 1318.9 L1725.2 1319.0 L1727.7 1319.2 L1730.2 1319.4 L1732.7 1319.7 L1735.1 1320.0 L1737.6 1320.3 L1740.0 1320.7 L1742.5 1321.2 L1744.9 1321.7 L1747.3 1322.3 L1749.8 1323.0 L1752.2 1323.7 L1754.6 1324.5 L1757.1 1325.3 L1759.5 1326.1 L1761.9 1326.9 L1764.3 1327.7 L1766.8 1328.4 L1769.2 1329.0 L1771.6 1329.6 L1774.1 1330.0 L1776.6 1330.4 L1779.0 1330.7 L1781.5 1330.9 L1784.0 1331.0 L1786.4 1331.0 L1788.9 1331.0 L1791.4 1330.9 L1793.8 1330.8 L1796.3 1330.5 L1798.8 1330.3 L1801.2 1329.9 L1803.7 1329.6 L1806.2 1329.1 L1808.6 1328.7 L1811.1 1328.1 L1813.5 1327.6 L1815.9 1327.0 L1818.3 1326.4 L1820.7 1325.7 L1823.1 1325.0 L1825.5 1324.3 L1827.9 1323.6 L1830.3 1322.9 L1832.7 1322.2 L1835.0 1321.5 L1837.4 1320.8 L1839.8 1320.2 L1842.2 1319.5 L1844.6 1318.9 L1847.0 1318.4 L1849.4 1317.9 L1851.9 1317.5 L1854.4 1317.2 L1856.9 1316.9 L1859.4 1316.8 L1861.9 1316.7 L1864.5 1316.7 L1867.0 1316.8 L1869.5 1316.9 L1872.1 1317.2 L1874.6 1317.5 L1877.1 1317.9 L1879.6 1318.4 L1882.0 1318.9 L1884.4 1319.5 L1886.8 1320.2 L1889.2 1320.9 L1891.6 1321.7 L1894.0 1322.5 L1896.3 1323.4 L1898.6 1324.2 L1901.0 1325.1 L1903.3 1326.1 L1905.6 1327.0 L1907.9 1327.9 L1910.2 1328.8 L1912.5 1329.7 L1914.8 1330.6 L1917.2 1331.4 L1919.5 1332.3 L1921.9 1333.0 L1924.2 1333.8 L1926.6 1334.5 L1929.0 1335.1 L1931.4 1335.7 L1933.8 1336.3 L1936.2 1336.8 L1938.6 1337.3 L1941.1 1337.8 L1943.5 1338.2 L1946.0 1338.6 L1948.5 1339.0 L1950.9 1339.3 L1953.4 1339.6 L1955.9 1339.9 L1958.4 1340.2 L1960.9 1340.4 L1963.4 1340.6 L1965.9 1340.8 L1968.4 1341.0 L1970.9 1341.1 L1973.4 1341.2 L1976.0 1341.3 L1978.5 1341.4 L1981.0 1341.5 L1983.5 1341.6 L1986.0 1341.6 L1988.6 1341.7 L1991.1 1341.7 L1993.6 1341.8 L1996.1 1341.8 L1998.6 1341.8 L2001.1 1341.8 L2003.6 1341.9 L2006.1 1341.9 L2008.6 1341.9 L2011.1 1341.9 L2013.5 1342.0 L2016.0 1342.0" stroke="#f0f" stroke-width="4.2" fill="none" stroke-linejoin="round"/>
<path d="M258.0 1338.5 L260.5 1338.9 L263.0 1339.3 L265.5 1339.7 L268.0 1340.0 L270.5 1340.4 L273.0 1340.7 L275.5 1341.0 L278.0 1341.2 L280.5 1341.5 L283.0 1341.7 L285.5 1341.9 L288.0 1342.2 L290.4 1342.3 L292.9 1342.5 L295.4 1342.7 L297.9 1342.8 L300.4 1343.0 L302.9 1343.1 L305.4 1343.2 L307.9 1343.3 L310.4 1343.4 L312.9 1343.5 L315.4 1343.5 L317.8 1343.6 L320.3 1343.6 L322.8 1343.7 L325.3 1343.7 L327.8 1343.8 L330.3 1343.8 L332.8 1343.8 L335.3 1343.8 L337.8 1343.8 L340.3 1343.8 L342.8 1343.9 L345.3 1343.9 L347.8 1343.9 L350.3 1343.9 L352.8 1343.9 L355.3 1343.9 L357.8 1343.9 L360.3 1343.9 L362.8 1343.9 L365.3 1343.9 L367.8 1344.0 L370.3 1344.0 L372.8 1344.0 L375.3 1344.0 L377.8 1344.1 L380.3 1344.1 L382.8 1344.2 L385.3 1344.2 L387.8 1344.3 L390.4 1344.3 L392.9 1344.4 L395.4 1344.4 L397.9 1344.5 L400.4 1344.6 L402.9 1344.6 L405.4 1344.7 L408.0 1344.7 L410.5 1344.8 L413.0 1344.8 L415.5 1344.9 L418.0 1344.9 L420.5 1345.0 L423.1 1345.0 L425.6 1345.0 L428.1 1345.0 L430.6 1345.1 L433.1 1345.1 L435.6 1345.1 L438.1 1345.1 L440.6 1345.1 L443.1 1345.0 L445.6 1345.0 L448.2 1344.9 L450.7 1344.9 L453.2 1344.8 L455.7 1344.7 L458.2 1344.7 L460.7 1344.6 L463.1 1344.4 L465.6 1344.3 L468.1 1344.2 L470.6 1344.0 L473.1 1343.8 L475.6 1343.6 L478.1 1343.4 L480.6 1343.2 L483.0 1343.0 L485.5 1342.7 L488.0 1342.4 L490.5 1342.1 L492.9 1341.8 L495.4 1341.5 L497.9 1341.1 L500.3 1340.8 L502.8 1340.4 L505.2 1340.0 L507.7 1339.6 L510.2 1339.2 L512.6 1338.8 L515.1 1338.4 L517.5 1338.0 L520.0 1337.5 L522.4 1337.1 L524.9 1336.6 L527.3 1336.1 L529.8 1335.6 L532.2 1335.2 L534.7 1334.7 L537.1 1334.2 L539.6 1333.7 L542.0 1333.2 L544.4 1332.7 L546.9 1332.2 L549.3 1331.6 L551.8 1331.1 L554.2 1330.6 L556.7 1330.1 L559.1 1329.6 L561.6 1329.1 L564.0 1328.6 L566.5 1328.0 L569.0 1327.5 L571.4 1327.0 L573.9 1326.5 L576.3 1326.0 L578.8 1325.5 L581.2 1325.0 L583.7 1324.6 L586.2 1324.1 L588.6 1323.6 L591.1 1323.1 L593.6 1322.7 L596.1 1322.2 L598.5 1321.8 L601.0 1321.4 L603.5 1321.0 L606.0 1320.5 L608.5 1320.1 L611.0 1319.7 L613.4 1319.3 L615.9 1319.0 L618.4 1318.6 L620.9 1318.2 L623.4 1317.8 L625.9 1317.4 L628.4 1317.0 L630.8 1316.6 L633.3 1316.2 L635.8 1315.8 L638.3 1315.4 L640.8 1315.0 L643.2 1314.6 L645.7 1314.2 L648.2 1313.8 L650.7 1313.3 L653.1 1312.9 L655.6 1312.4 L658.0 1312.0 L660.5 1311.5 L662.9 1311.0 L665.4 1310.5 L667.8 1310.0 L670.3 1309.5 L672.7 1308.9 L675.1 1308.3 L677.5 1307.7 L679.9 1307.1 L682.3 1306.5 L684.7 1305.9 L687.1 1305.2 L689.5 1304.5 L691.9 1303.8 L694.2 1303.1 L696.6 1302.3 L698.9 1301.5 L701.3 1300.7 L703.6 1299.8 L705.9 1299.0 L708.2 1298.1 L710.5 1297.1 L712.8 1296.2 L715.1 1295.2 L717.4 1294.2 L719.6 1293.2 L721.9 1292.1 L724.2 1291.0 L726.4 1290.0 L728.6 1288.8 L730.9 1287.7 L733.1 1286.6 L735.3 1285.4 L737.5 1284.2 L739.7 1283.0 L741.9 1281.8 L744.1 1280.6 L746.3 1279.3 L748.5 1278.1 L750.7 1276.8 L752.8 1275.5 L755.0 1274.2 L757.1 1273.0 L759.3 1271.7 L761.4 1270.3 L763.6 1269.0 L765.7 1267.7 L767.9 1266.4 L770.0 1265.1 L772.1 1263.7 L774.3 1262.4 L776.4 1261.1 L778.5 1259.7 L780.6 1258.4 L782.8 1257.1 L784.9 1255.7 L787.0 1254.4 L789.1 1253.0 L791.2 1251.7 L793.3 1250.4 L795.4 1249.0 L797.5 1247.7 L799.6 1246.3 L801.7 1245.0 L803.8 1243.6 L805.9 1242.3 L808.0 1240.9 L810.0 1239.6 L812.1 1238.2 L814.2 1236.8 L816.3 1235.5 L818.4 1234.1 L820.4 1232.7 L822.5 1231.3 L824.6 1230.0 L826.6 1228.6 L828.7 1227.2 L830.8 1225.8 L832.8 1224.4 L834.9 1222.9 L836.9 1221.5 L839.0 1220.1 L841.0 1218.7 L843.1 1217.2 L845.2 1215.8 L847.2 1214.4 L849.2 1212.9 L851.3 1211.4 L853.3 1210.0 L855.4 1208.5 L857.4 1207.0 L859.4 1205.5 L861.4 1204.0 L863.4 1202.5 L865.4 1201.0 L867.4 1199.4 L869.4 1197.9 L871.4 1196.3 L873.3 1194.7 L875.3 1193.2 L877.2 1191.6 L879.2 1190.0 L881.1 1188.3 L883.0 1186.7 L884.9 1185.1 L886.7 1183.4 L888.6 1181.7 L890.4 1180.0 L892.3 1178.3 L894.1 1176.6 L895.9 1174.8 L897.6 1173.1 L899.4 1171.3 L901.1 1169.5 L902.8 1167.7 L904.5 1165.8 L906.2 1164.0 L907.8 1162.1 L909.4 1160.2 L911.0 1158.3 L912.6 1156.4 L914.2 1154.5 L915.7 1152.5 L917.3 1150.6 L918.8 1148.6 L920.3 1146.6 L921.8 1144.6 L923.2 1142.6 L924.7 1140.6 L926.1 1138.5 L927.6 1136.5 L929.0 1134.4 L930.4 1132.3 L931.8 1130.3 L933.2 1128.2 L934.5 1126.1 L935.9 1124.0 L937.2 1121.8 L938.6 1119.7 L939.9 1117.6 L941.2 1115.5 L942.5 1113.3 L943.9 1111.2 L945.2 1109.1 L946.5 1106.9 L947.8 1104.8 L949.0 1102.6 L950.3 1100.4 L951.6 1098.3 L952.9 1096.1 L954.2 1094.0 L955.4 1091.8 L956.7 1089.6 L957.9 1087.5 L959.2 1085.3 L960.4 1083.1 L961.7 1080.9 L962.9 1078.7 L964.1 1076.6 L965.3 1074.4 L966.6 1072.2 L967.8 1070.0 L969.0 1067.8 L970.2 1065.6 L971.3 1063.4 L972.5 1061.2 L973.7 1059.0 L974.9 1056.7 L976.0 1054.5 L977.2 1052.3 L978.3 1050.1 L979.5 1047.8 L980.6 1045.6 L981.7 1043.4 L982.8 1041.1 L983.9 1038.9 L985.0 1036.6 L986.1 1034.4 L987.2 1032.1 L988.3 1029.9 L989.3 1027.6 L990.4 1025.4 L991.4 1023.1 L992.4 1020.8 L993.5 1018.5 L994.5 1016.2 L995.5 1014.0 L996.5 1011.7 L997.5 1009.4 L998.5 1007.1 L999.4 1004.8 L1000.4 1002.5 L1001.3 1000.2 L1002.3 997.8 L1003.2 995.5 L1004.1 993.2 L1005.0 990.9 L1005.9 988.5 L1006.8 986.2 L1007.7 983.9 L1008.6 981.5 L1009.4 979.2 L1010.3 976.8 L1011.2 974.5 L1012.0 972.1 L1012.8 969.8 L1013.7 967.4 L1014.5 965.0 L1015.3 962.7 L1016.1 960.3 L1016.9 957.9 L1017.7 955.6 L1018.5 953.2 L1019.3 950.8 L1020.1 948.4 L1020.9 946.1 L1021.6 943.7 L1022.4 941.3 L1023.2 938.9 L1023.9 936.5 L1024.7 934.1 L1025.4 931.7 L1026.2 929.4 L1026.9 927.0 L1027.7 924.6 L1028.4 922.2 L1029.1 919.8 L1029.8 917.4 L1030.6 915.0 L1031.3 912.6 L1032.0 910.2 L1032.7 907.8 L1033.4 905.4 L1034.2 903.0 L1034.9 900.6 L1035.6 898.2 L1036.3 895.8 L1037.0 893.4 L1037.7 891.0 L1038.4 888.6 L1039.1 886.2 L1039.8 883.8 L1040.4 881.4 L1041.1 879.0 L1041.8 876.6 L1042.5 874.2 L1043.2 871.7 L1043.8 869.3 L1044.5 866.9 L1045.2 864.5 L1045.9 862.1 L1046.5 859.7 L1047.2 857.3 L1047.9 854.9 L1048.5 852.5 L1049.2 850.0 L1049.8 847.6 L1050.5 845.2 L1051.1 842.8 L1051.8 840.4 L1052.4 838.0 L1053.1 835.6 L1053.7 833.1 L1054.4 830.7 L1055.0 828.3 L1055.6 825.9 L1056.3 823.5 L1056.9 821.0 L1057.5 818.6 L1058.2 816.2 L1058.8 813.8 L1059.4 811.4 L1060.1 808.9 L1060.7 806.5 L1061.3 804.1 L1061.9 801.7 L1062.5 799.2 L1063.2 796.8 L1063.8 794.4 L1064.4 792.0 L1065.0 789.5 L1065.6 787.1 L1066.2 784.7 L1066.8 782.3 L1067.4 779.8 L1068.0 777.4 L1068.6 775.0 L1069.2 772.5 L1069.8 770.1 L1070.4 767.7 L1071.0 765.3 L1071.6 762.8 L1072.2 760.4 L1072.8 758.0 L1073.4 755.5 L1074.0 753.1 L1074.6 750.7 L1075.2 748.2 L1075.8 745.8 L1076.4 743.4 L1076.9 740.9 L1077.5 738.5 L1078.1 736.1 L1078.7 733.6 L1079.3 731.2 L1079.9 728.7 L1080.4 726.3 L1081.0 723.9 L1081.6 721.4 L1082.2 719.0 L1082.8 716.6 L1083.3 714.1 L1083.9 711.7 L1084.5 709.2 L1085.1 706.8 L1085.6 704.4 L1086.2 701.9 L1086.8 699.5 L1087.4 697.0 L1087.9 694.6 L1088.5 692.2 L1089.1 689.7 L1089.7 687.3 L1090.2 684.8 L1090.8 682.4 L1091.4 680.0 L1092.0 677.5 L1092.5 675.1 L1093.1 672.7 L1093.7 670.2 L1094.3 667.8 L1094.8 665.3 L1095.4 662.9 L1096.0 660.5 L1096.6 658.0 L1097.2 655.6 L1097.8 653.2 L1098.3 650.7 L1098.9 648.3 L1099.5 645.8 L1100.1 643.4 L1100.7 641.0 L1101.3 638.5 L1101.9 636.1 L1102.5 633.7 L1103.1 631.2 L1103.7 628.8 L1104.3 626.4 L1104.9 624.0 L1105.5 621.5 L1106.1 619.1 L1106.7 616.7 L1107.3 614.2 L1107.9 611.8 L1108.6 609.4 L1109.2 607.0 L1109.8 604.5 L1110.4 602.1 L1111.1 599.7 L1111.7 597.3 L1112.3 594.9 L1113.0 592.4 L1113.6 590.0 L1114.3 587.6 L1114.9 585.2 L1115.6 582.8 L1116.2 580.4 L1116.9 578.0 L1117.5 575.5 L1118.2 573.1 L1118.9 570.7 L1119.5 568.3 L1120.2 565.9 L1120.9 563.5 L1121.6 561.1 L1122.3 558.7 L1122.9 556.3 L1123.6 553.9 L1124.3 551.5 L1125.0 549.1 L1125.8 546.7 L1126.5 544.3 L1127.2 541.9 L1127.9 539.5 L1128.6 537.2 L1129.4 534.8 L1130.1 532.4 L1130.8 530.0 L1131.6 527.6 L1132.3 525.2 L1133.1 522.8 L1133.8 520.5 L1134.6 518.1 L1135.3 515.7 L1136.1 513.3 L1136.8 510.9 L1137.6 508.6 L1138.4 506.2 L1139.1 503.8 L1139.9 501.4 L1140.7 499.0 L1141.4 496.7 L1142.2 494.3 L1142.9 491.9 L1143.7 489.5 L1144.5 487.1 L1145.2 484.7 L1146.0 482.4 L1146.7 480.0 L1147.5 477.6 L1148.2 475.2 L1149.0 472.8 L1149.7 470.4 L1150.4 468.0 L1151.2 465.6 L1151.9 463.2 L1152.6 460.8 L1153.3 458.4 L1154.0 456.0 L1154.8 453.6 L1155.5 451.1 L1156.2 448.7 L1156.8 446.3 L1157.5 443.9 L1158.2 441.4 L1158.9 439.0 L1159.5 436.6 L1160.2 434.1 L1160.9 431.7 L1161.5 429.3 L1162.2 426.8 L1162.8 424.4 L1163.5 421.9 L1164.2 419.5 L1164.9 417.1 L1165.6 414.7 L1166.3 412.3 L1167.0 409.8 L1167.7 407.4 L1168.5 405.1 L1169.3 402.7 L1170.1 400.3 L1170.9 397.9 L1171.7 395.6 L1172.6 393.3 L1173.5 391.0 L1174.4 388.7 L1175.4 386.4 L1176.4 384.1 L1177.4 381.9 L1178.5 379.6 L1179.6 377.4 L1180.8 375.2 L1181.9 373.1 L1183.2 370.9 L1184.5 368.8 L1185.8 366.7 L1187.2 364.6 L1188.6 362.6 L1190.1 360.6 L1191.6 358.6 L1193.2 356.6 L1194.9 354.7 L1196.6 352.8 L1198.3 351.1 L1200.2 349.6 L1202.0 348.3 L1203.9 347.4 L1205.9 347.0 L1207.9 347.0 L1209.8 347.6 L1211.8 348.6 L1213.6 350.0 L1215.3 351.8 L1216.9 353.8 L1218.3 356.1 L1219.6 358.6 L1220.8 361.1 L1221.8 363.6 L1222.8 366.2 L1223.6 368.7 L1224.4 371.2 L1225.2 373.7 L1225.9 376.2 L1226.6 378.7 L1227.3 381.1 L1228.0 383.6 L1228.6 386.0 L1229.2 388.5 L1229.8 390.9 L1230.4 393.4 L1230.9 395.8 L1231.4 398.2 L1232.0 400.6 L1232.5 403.1 L1232.9 405.5 L1233.4 407.9 L1233.9 410.3 L1234.4 412.8 L1234.8 415.2 L1235.3 417.6 L1235.7 420.1 L1236.1 422.5 L1236.6 424.9 L1237.0 427.4 L1237.4 429.8 L1237.8 432.3 L1238.2 434.7 L1238.6 437.2 L1239.0 439.7 L1239.4 442.1 L1239.8 444.6 L1240.1 447.1 L1240.5 449.5 L1240.9 452.0 L1241.2 454.5 L1241.6 456.9 L1241.9 459.4 L1242.3 461.9 L1242.6 464.4 L1242.9 466.8 L1243.3 469.3 L1243.6 471.8 L1243.9 474.3 L1244.3 476.8 L1244.6 479.3 L1244.9 481.8 L1245.2 484.2 L1245.5 486.7 L1245.8 489.2 L1246.1 491.7 L1246.5 494.2 L1246.8 496.7 L1247.1 499.2 L1247.4 501.7 L1247.7 504.2 L1248.0 506.7 L1248.2 509.2 L1248.5 511.6 L1248.8 514.1 L1249.1 516.6 L1249.4 519.1 L1249.7 521.6 L1250.0 524.1 L1250.3 526.6 L1250.6 529.1 L1250.9 531.6 L1251.2 534.1 L1251.4 536.6 L1251.7 539.0 L1252.0 541.5 L1252.3 544.0 L1252.6 546.5 L1252.9 549.0 L1253.1 551.5 L1253.4 554.0 L1253.7 556.5 L1254.0 559.0 L1254.2 561.5 L1254.5 563.9 L1254.8 566.4 L1255.1 568.9 L1255.3 571.4 L1255.6 573.9 L1255.9 576.4 L1256.2 578.9 L1256.4 581.4 L1256.7 583.9 L1257.0 586.3 L1257.2 588.8 L1257.5 591.3 L1257.8 593.8 L1258.0 596.3 L1258.3 598.8 L1258.6 601.3 L1258.8 603.8 L1259.1 606.3 L1259.4 608.7 L1259.6 611.2 L1259.9 613.7 L1260.2 616.2 L1260.4 618.7 L1260.7 621.2 L1260.9 623.7 L1261.2 626.2 L1261.4 628.7 L1261.7 631.1 L1262.0 633.6 L1262.2 636.1 L1262.5 638.6 L1262.7 641.1 L1263.0 643.6 L1263.2 646.1 L1263.5 648.6 L1263.7 651.1 L1264.0 653.5 L1264.2 656.0 L1264.5 658.5 L1264.7 661.0 L1265.0 663.5 L1265.2 666.0 L1265.5 668.5 L1265.7 671.0 L1266.0 673.5 L1266.2 675.9 L1266.5 678.4 L1266.7 680.9 L1267.0 683.4 L1267.2 685.9 L1267.5 688.4 L1267.7 690.9 L1267.9 693.4 L1268.2 695.9 L1268.4 698.4 L1268.7 700.8 L1268.9 703.3 L1269.2 705.8 L1269.4 708.3 L1269.6 710.8 L1269.9 713.3 L1270.1 715.8 L1270.4 718.3 L1270.6 720.8 L1270.8 723.3 L1271.1 725.8 L1271.3 728.2 L1271.5 730.7 L1271.8 733.2 L1272.0 735.7 L1272.3 738.2 L1272.5 740.7 L1272.7 743.2 L1273.0 745.7 L1273.2 748.2 L1273.4 750.7 L1273.7 753.2 L1273.9 755.7 L1274.1 758.1 L1274.4 760.6 L1274.6 763.1 L1274.8 765.6 L1275.0 768.1 L1275.3 770.6 L1275.5 773.1 L1275.7 775.6 L1276.0 778.1 L1276.2 780.6 L1276.4 783.1 L1276.7 785.6 L1276.9 788.1 L1277.1 790.6 L1277.3 793.1 L1277.6 795.5 L1277.8 798.0 L1278.0 800.5 L1278.2 803.0 L1278.5 805.5 L1278.7 808.0 L1278.9 810.5 L1279.1 813.0 L1279.4 815.5 L1279.6 818.0 L1279.8 820.5 L1280.0 823.0 L1280.2 825.5 L1280.5 828.0 L1280.7 830.5 L1280.9 833.0 L1281.1 835.4 L1281.4 837.9 L1281.6 840.4 L1281.8 842.9 L1282.0 845.4 L1282.2 847.9 L1282.4 850.4 L1282.7 852.9 L1282.9 855.4 L1283.1 857.9 L1283.3 860.4 L1283.5 862.9 L1283.7 865.4 L1284.0 867.9 L1284.2 870.4 L1284.4 872.9 L1284.6 875.4 L1284.8 877.8 L1285.0 880.3 L1285.2 882.8 L1285.4 885.3 L1285.7 887.8 L1285.9 890.3 L1286.1 892.8 L1286.3 895.3 L1286.5 897.8 L1286.7 900.3 L1286.9 902.8 L1287.1 905.3 L1287.3 907.8 L1287.5 910.3 L1287.8 912.8 L1288.0 915.3 L1288.2 917.8 L1288.4 920.2 L1288.6 922.7 L1288.8 925.2 L1289.0 927.7 L1289.2 930.2 L1289.4 932.7 L1289.6 935.2 L1289.8 937.7 L1290.0 940.2 L1290.2 942.7 L1290.4 945.2 L1290.7 947.7 L1290.9 950.2 L1291.1 952.7 L1291.3 955.2 L1291.5 957.6 L1291.7 960.1 L1291.9 962.6 L1292.1 965.1 L1292.3 967.6 L1292.5 970.1 L1292.7 972.6 L1292.9 975.1 L1293.2 977.6 L1293.4 980.1 L1293.6 982.6 L1293.8 985.1 L1294.0 987.6 L1294.2 990.1 L1294.4 992.5 L1294.6 995.0 L1294.9 997.5 L1295.1 1000.0 L1295.3 1002.5 L1295.5 1005.0 L1295.7 1007.5 L1295.9 1010.0 L1296.2 1012.5 L1296.4 1015.0 L1296.6 1017.5 L1296.8 1020.0 L1297.1 1022.5 L1297.3 1024.9 L1297.5 1027.4 L1297.7 1029.9 L1298.0 1032.4 L1298.2 1034.9 L1298.4 1037.4 L1298.7 1039.9 L1298.9 1042.4 L1299.1 1044.9 L1299.4 1047.4 L1299.6 1049.9 L1299.8 1052.3 L1300.1 1054.8 L1300.3 1057.3 L1300.6 1059.8 L1300.8 1062.3 L1301.0 1064.8 L1301.3 1067.3 L1301.5 1069.8 L1301.8 1072.3 L1302.0 1074.8 L1302.3 1077.3 L1302.6 1079.7 L1302.8 1082.2 L1303.1 1084.7 L1303.3 1087.2 L1303.6 1089.7 L1303.9 1092.2 L1304.1 1094.7 L1304.4 1097.2 L1304.7 1099.7 L1304.9 1102.2 L1305.2 1104.6 L1305.5 1107.1 L1305.8 1109.6 L1306.0 1112.1 L1306.3 1114.6 L1306.6 1117.1 L1306.9 1119.6 L1307.2 1122.1 L1307.5 1124.6 L1307.8 1127.0 L1308.1 1129.5 L1308.4 1132.0 L1308.7 1134.5 L1309.0 1137.0 L1309.3 1139.5 L1309.6 1142.0 L1309.9 1144.5 L1310.2 1146.9 L1310.5 1149.4 L1310.8 1151.9 L1311.1 1154.4 L1311.4 1156.9 L1311.8 1159.4 L1312.1 1161.8 L1312.4 1164.3 L1312.7 1166.8 L1313.1 1169.3 L1313.4 1171.8 L1313.7 1174.3 L1314.1 1176.7 L1314.4 1179.2 L1314.8 1181.7 L1315.1 1184.2 L1315.4 1186.7 L1315.8 1189.1 L1316.1 1191.6 L1316.5 1194.1 L1316.8 1196.6 L1317.2 1199.1 L1317.6 1201.5 L1317.9 1204.0 L1318.3 1206.5 L1318.6 1209.0 L1319.0 1211.4 L1319.4 1213.9 L1319.8 1216.4 L1320.1 1218.8 L1320.5 1221.3 L1320.9 1223.8 L1321.3 1226.3 L1321.7 1228.7 L1322.0 1231.2 L1322.4 1233.7 L1322.8 1236.1 L1323.3 1238.6 L1323.7 1241.0 L1324.1 1243.5 L1324.5 1246.0 L1325.0 1248.4 L1325.4 1250.9 L1325.9 1253.3 L1326.4 1255.8 L1326.9 1258.2 L1327.4 1260.6 L1327.9 1263.1 L1328.5 1265.5 L1329.0 1267.9 L1329.6 1270.4 L1330.2 1272.8 L1330.8 1275.2 L1331.4 1277.6 L1332.1 1280.0 L1332.7 1282.5 L1333.4 1284.9 L1334.1 1287.3 L1334.9 1289.7 L1335.6 1292.1 L1336.4 1294.4 L1337.2 1296.8 L1338.1 1299.2 L1338.9 1301.6 L1339.8 1303.9 L1340.7 1306.3 L1341.7 1308.7 L1342.7 1311.0 L1343.7 1313.4 L1344.7 1315.7 L1345.8 1318.0 L1346.9 1320.4 L1348.1 1322.6 L1349.3 1324.9 L1350.6 1327.1 L1351.9 1329.2 L1353.4 1331.2 L1354.9 1333.0 L1356.5 1334.8 L1358.3 1336.4 L1360.1 1337.8 L1362.1 1339.1 L1364.2 1340.1 L1366.4 1341.0 L1368.7 1341.8 L1371.1 1342.4 L1373.5 1342.9 L1376.0 1343.3 L1378.5 1343.6 L1381.0 1343.9 L1383.5 1344.0 L1386.0 1344.1 L1388.5 1344.2 L1391.1 1344.2 L1393.6 1344.2 L1396.1 1344.1 L1398.6 1344.0 L1401.2 1343.9 L1403.7 1343.8 L1406.2 1343.7 L1408.7 1343.6 L1411.3 1343.6 L1413.8 1343.5 L1416.3 1343.5 L1418.8 1343.4 L1421.3 1343.4 L1423.8 1343.4 L1426.3 1343.4 L1428.8 1343.4 L1431.3 1343.5 L1433.8 1343.5 L1436.3 1343.5 L1438.8 1343.5 L1441.3 1343.5 L1443.8 1343.5 L1446.3 1343.5 L1448.8 1343.5 L1451.3 1343.5 L1453.8 1343.5 L1456.3 1343.5 L1458.8 1343.5 L1461.3 1343.5 L1463.8 1343.5 L1466.3 1343.5 L1468.8 1343.5 L1471.3 1343.5 L1473.8 1343.5 L1476.3 1343.5 L1478.8 1343.5 L1481.3 1343.5 L1483.8 1343.5 L1486.3 1343.5 L1488.8 1343.5 L1491.3 1343.5 L1493.8 1343.5 L1496.3 1343.5 L1498.8 1343.5 L1501.3 1343.5 L1503.8 1343.5 L1506.3 1343.5 L1508.8 1343.5 L1511.3 1343.5 L1513.8 1343.5 L1516.3 1343.5 L1518.8 1343.5 L1521.3 1343.5 L1523.8 1343.5 L1526.3 1343.5 L1528.8 1343.5 L1531.3 1343.5 L1533.9 1343.5 L1536.4 1343.5 L1538.9 1343.5 L1541.4 1343.5 L1543.9 1343.5 L1546.4 1343.5 L1548.9 1343.5 L1551.4 1343.5 L1553.9 1343.5 L1556.4 1343.5 L1558.9 1343.5 L1561.4 1343.5 L1563.9 1343.5 L1566.4 1343.5 L1568.9 1343.5 L1571.4 1343.5 L1573.9 1343.5 L1576.4 1343.5 L1578.9 1343.5 L1581.4 1343.5 L1583.9 1343.5 L1586.4 1343.5 L1588.9 1343.5 L1591.4 1343.5 L1593.9 1343.5 L1596.4 1343.5 L1599.0 1343.5 L1601.5 1343.5 L1604.0 1343.5 L1606.5 1343.5 L1609.0 1343.5 L1611.5 1343.5 L1614.0 1343.5 L1616.5 1343.5 L1619.0 1343.5 L1621.5 1343.5 L1624.0 1343.5 L1626.5 1343.5 L1629.0 1343.5 L1631.5 1343.5 L1634.0 1343.5 L1636.5 1343.5 L1639.0 1343.5 L1641.5 1343.5 L1644.0 1343.5 L1646.5 1343.5 L1649.0 1343.5 L1651.5 1343.5 L1654.0 1343.5 L1656.5 1343.5 L1659.0 1343.5 L1661.5 1343.5 L1664.0 1343.5 L1666.5 1343.5 L1669.0 1343.5 L1671.6 1343.5 L1674.1 1343.5 L1676.6 1343.5 L1679.1 1343.5 L1681.6 1343.5 L1684.1 1343.5 L1686.6 1343.5 L1689.1 1343.5 L1691.6 1343.5 L1694.1 1343.5 L1696.6 1343.5 L1699.1 1343.5 L1701.6 1343.5 L1704.1 1343.5 L1706.6 1343.5 L1709.1 1343.5 L1711.6 1343.5 L1714.1 1343.5 L1716.6 1343.5 L1719.1 1343.5 L1721.6 1343.5 L1724.1 1343.5 L1726.6 1343.5 L1729.1 1343.5 L1731.6 1343.5 L1734.1 1343.5 L1736.6 1343.5 L1739.1 1343.5 L1741.6 1343.5 L1744.1 1343.5 L1746.6 1343.5 L1749.2 1343.5 L1751.7 1343.5 L1754.2 1343.5 L1756.7 1343.5 L1759.2 1343.5 L1761.7 1343.5 L1764.2 1343.5 L1766.7 1343.5 L1769.2 1343.5 L1771.7 1343.5 L1774.2 1343.5 L1776.7 1343.5 L1779.2 1343.5 L1781.7 1343.5 L1784.2 1343.5 L1786.7 1343.5 L1789.2 1343.5 L1791.7 1343.5 L1794.2 1343.5 L1796.7 1343.5 L1799.2 1343.5 L1801.7 1343.5 L1804.2 1343.5 L1806.7 1343.5 L1809.2 1343.5 L1811.7 1343.5 L1814.2 1343.5 L1816.7 1343.5 L1819.2 1343.5 L1821.7 1343.5 L1824.2 1343.5 L1826.7 1343.5 L1829.3 1343.5 L1831.8 1343.5 L1834.3 1343.5 L1836.8 1343.5 L1839.3 1343.5 L1841.8 1343.5 L1844.3 1343.5 L1846.8 1343.5 L1849.3 1343.5 L1851.8 1343.5 L1854.3 1343.5 L1856.8 1343.5 L1859.3 1343.5 L1861.8 1343.5 L1864.3 1343.5 L1866.8 1343.5 L1869.3 1343.5 L1871.8 1343.5 L1874.3 1343.5 L1876.8 1343.5 L1879.3 1343.5 L1881.8 1343.5 L1884.3 1343.5 L1886.8 1343.5 L1889.3 1343.5 L1891.8 1343.5 L1894.3 1343.5 L1896.8 1343.5 L1899.3 1343.5 L1901.8 1343.5 L1904.3 1343.5 L1906.9 1343.5 L1909.4 1343.5 L1911.9 1343.5 L1914.4 1343.5 L1916.9 1343.5 L1919.4 1343.5 L1921.9 1343.5 L1924.4 1343.5 L1926.9 1343.5 L1929.4 1343.5 L1931.9 1343.5 L1934.4 1343.5 L1936.9 1343.5 L1939.4 1343.5 L1941.9 1343.5 L1944.4 1343.5 L1946.9 1343.5 L1949.4 1343.5 L1951.9 1343.5 L1954.4 1343.5 L1956.9 1343.5 L1959.4 1343.5 L1961.9 1343.5 L1964.4 1343.5 L1966.9 1343.5 L1969.4 1343.5 L1971.9 1343.5 L1974.4 1343.5 L1976.9 1343.5 L1979.4 1343.5 L1982.0 1343.5 L1984.5 1343.5 L1987.0 1343.5 L1989.5 1343.5 L1992.0 1343.5 L1994.5 1343.5 L1997.0 1343.5 L1999.5 1343.5 L2002.0 1343.5 L2004.5 1343.5 L2007.0 1343.5 L2009.5 1343.5 L2012.0 1343.5 L2014.5 1343.5 L2017.0 1343.5" stroke="#f00" stroke-width="5.4" fill="none" stroke-linejoin="round"/>
<rect x="1909" y="1337" width="108" height="11" fill="#f00"/>
<rect x="258" y="1333" width="20" height="10" fill="#f00"/>
<line x1="999.4" y1="451.7" x2="1119.7" y2="556.1" stroke="#222" stroke-width="3.6"/>
<line x1="1035.3" y1="682.2" x2="1232.9" y2="849.3" stroke="#222" stroke-width="3.6"/>
<line x1="915.1" y1="922.6" x2="1151.0" y2="1134.5" stroke="#222" stroke-width="3.6"/>
<g fill="#000"><rect x="250" y="51" width="1775" height="8"/><rect x="250" y="1392" width="1775" height="8"/><rect x="250" y="51" width="8" height="1373"/><rect x="2017" y="51" width="8" height="1373"/><rect x="226" y="50.5" width="26" height="9"/><rect x="226" y="308.3" width="26" height="9"/><rect x="226" y="566.1" width="26" height="9"/><rect x="226" y="823.9" width="26" height="9"/><rect x="226" y="1081.7" width="26" height="9"/><rect x="226" y="1339.5" width="26" height="9"/><rect x="238" y="179.4" width="14" height="9"/><rect x="238" y="437.2" width="14" height="9"/><rect x="238" y="695.0" width="14" height="9"/><rect x="238" y="952.8" width="14" height="9"/><rect x="238" y="1210.6" width="14" height="9"/><rect x="250.0" y="1398" width="8" height="26"/><rect x="691.8" y="1398" width="8" height="26"/><rect x="1133.5" y="1398" width="8" height="26"/><rect x="1575.3" y="1398" width="8" height="26"/><rect x="2017.0" y="1398" width="8" height="26"/><rect x="470.9" y="1398" width="8" height="14"/><rect x="912.6" y="1398" width="8" height="14"/><rect x="1354.4" y="1398" width="8" height="14"/><rect x="1796.1" y="1398" width="8" height="14"/></g>
<g fill="#000" stroke="#fff" stroke-width="1.4" style="font-kerning:none" font-family='"Liberation Sans", Arial, sans-serif'><text x="107.3" y="75.3" font-size="73.0" textLength="103.2" lengthAdjust="spacingAndGlyphs">2,5</text><text x="107.3" y="333.1" font-size="73.0" textLength="103.2" lengthAdjust="spacingAndGlyphs">2,0</text><text x="112.9" y="590.9" font-size="73.0" textLength="97.4" lengthAdjust="spacingAndGlyphs">1,5</text><text x="112.9" y="848.7" font-size="73.0" textLength="97.4" lengthAdjust="spacingAndGlyphs">1,0</text><text x="110.4" y="1106.5" font-size="73.0" textLength="100.0" lengthAdjust="spacingAndGlyphs">0,5</text><text x="110.4" y="1364.3" font-size="73.0" textLength="100.0" lengthAdjust="spacingAndGlyphs">0,0</text><text x="191.9" y="1496.0" font-size="73.0" textLength="120.4" lengthAdjust="spacingAndGlyphs">200</text><text x="633.6" y="1496.0" font-size="73.0" textLength="120.4" lengthAdjust="spacingAndGlyphs">300</text><text x="1075.4" y="1496.0" font-size="73.0" textLength="120.4" lengthAdjust="spacingAndGlyphs">400</text><text x="1517.1" y="1496.0" font-size="73.0" textLength="120.4" lengthAdjust="spacingAndGlyphs">500</text><text x="1958.9" y="1496.0" font-size="73.0" textLength="120.4" lengthAdjust="spacingAndGlyphs">600</text><text x="840.7" y="1623.7" font-size="80.5" textLength="594.4" lengthAdjust="spacingAndGlyphs">Temperature (°C)</text><text fill="#303030" transform="translate(61.7,1232.6) rotate(-90)" x="-5.8" y="0" font-size="68.4" textLength="936.0" lengthAdjust="spacingAndGlyphs">Derivative weight loss (%/°C)</text><text x="1145.7" y="299.0" font-size="69.5" textLength="108.8" lengthAdjust="spacingAndGlyphs">400</text><text x="1257.7" y="363.5" font-size="69.5" textLength="109.5" lengthAdjust="spacingAndGlyphs">447</text><text x="1384.7" y="251.0" font-size="69.5" textLength="108.5" lengthAdjust="spacingAndGlyphs">462</text><text x="910.7" y="414.8" font-size="69.5" textLength="88.9" lengthAdjust="spacingAndGlyphs">PP</text><text x="388.1" y="649.6" font-size="69.5" textLength="622.9" lengthAdjust="spacingAndGlyphs">PP/Hemp-GMA 90/10</text><text x="305.1" y="877.5" font-size="69.5" textLength="679.0" lengthAdjust="spacingAndGlyphs">PP-g-GMA/Hemp 90/10</text><text x="1504.1" y="641.5" font-size="69.5" textLength="456.8" lengthAdjust="spacingAndGlyphs">PP/Hemp 90/10</text></g>
</svg></body></html>
